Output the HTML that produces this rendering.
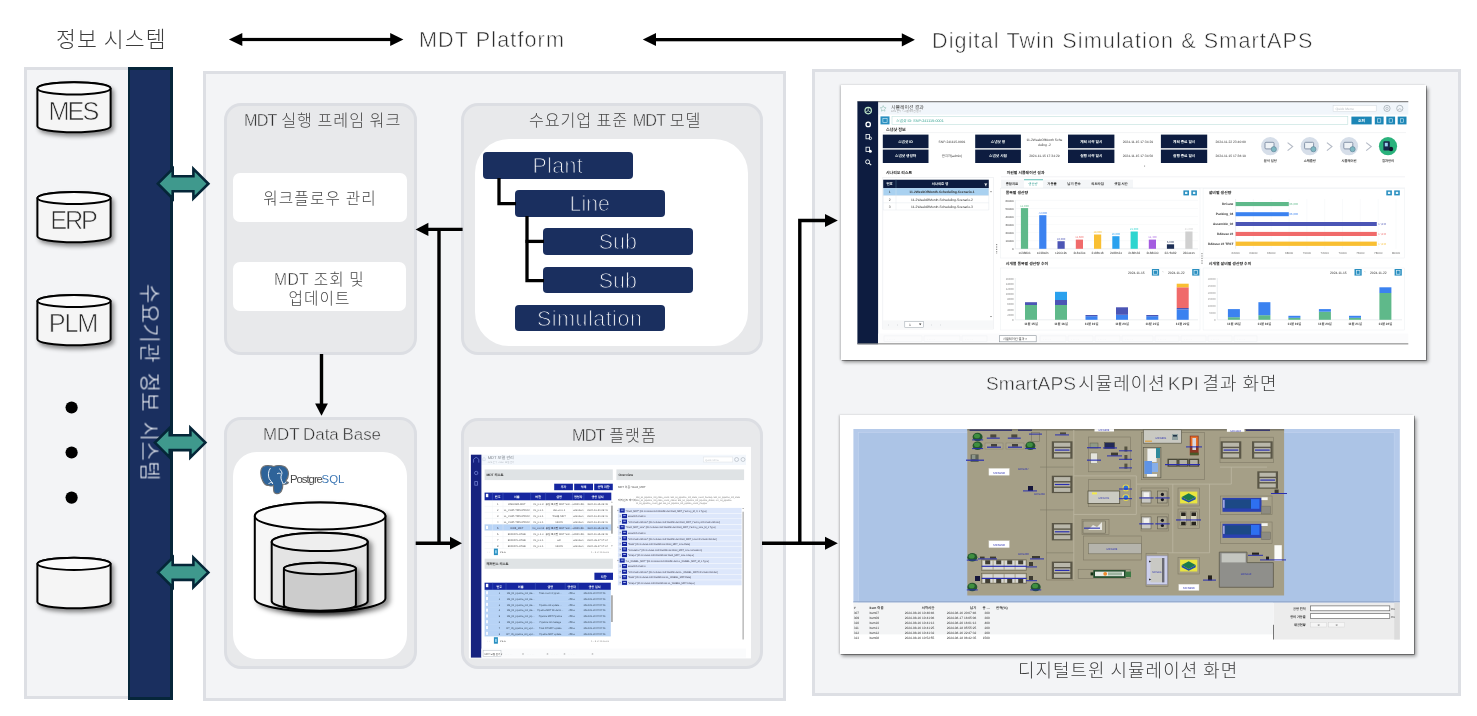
<!DOCTYPE html>
<html lang="ko">
<head>
<meta charset="utf-8">
<title>MDT Platform Architecture</title>
<style>
html,body{margin:0;padding:0}
body{width:1477px;height:716px;position:relative;overflow:hidden;background:#fff;
  font-family:"Liberation Sans","Noto Sans CJK KR",sans-serif;font-weight:300;color:#3d3d3d}
.a{position:absolute;box-sizing:border-box}
.t{position:absolute;white-space:nowrap;line-height:1;margin:0;will-change:transform}
.panel{background:#f3f4f6;border:3px solid #dddfe4}
.ip{background:#e8e9eb;border:3px solid #dcdee3;border-radius:17px}
.wb{background:#fff}
.nb{will-change:transform;--bg:#1a2f5f;background:#1a2f5f;border-radius:4px;color:#fff;font-size:21.4px;text-align:center;line-height:28.5px;letter-spacing:0}
.h{font-size:21.6px;letter-spacing:1.1px}
.L{-webkit-text-stroke:.026em var(--bg,#fff);color:#2b2b2b}
.nb .L{color:#fff;-webkit-text-stroke-width:.045em}
.lbl{font-size:16.2px;color:#484848;letter-spacing:.95px;word-spacing:-.054em;--bg:#e8e9eb}
.cap{font-size:17.9px;color:#3d3d3d;letter-spacing:1.05px;word-spacing:-.054em;--bg:#f3f4f6}
.cyl{font-size:25.3px;width:80px;text-align:center;color:#333;letter-spacing:0;z-index:5;--bg:#f5f5f5}
.cap .L{font-size:1.07em}
.wt{--bg:#fff;font-size:15.7px;color:#484848;text-align:center;letter-spacing:1.12px;word-spacing:-.054em}
svg{position:absolute;left:0;top:0;overflow:visible}
</style>
</head>
<body>

<!-- ===== header ===== -->
<div class="t h" id="h1" style="left:56.3px;top:29px;word-spacing:-1.2px">정보 시스템</div>
<div class="t h L" id="h2" style="left:419px;top:29.3px">MDT Platform</div>
<div class="t h L" id="h3" style="left:932px;top:29.5px">Digital Twin Simulation &amp; SmartAPS</div>

<!-- ===== left panel ===== -->
<div class="a panel" id="pL" style="left:24px;top:67px;width:149px;height:632px"></div>
<div class="a" id="navy" style="left:127.5px;top:67px;width:45.5px;height:632.5px;background:#1a2f5f;border:3px solid #06263a;border-left-width:2px"></div>
<div class="t" id="vt" style="left:150px;top:382.8px;width:0;height:0">
  <div class="t" style="left:-110px;top:-11px;width:220px;text-align:center;font-size:21px;letter-spacing:.4px;word-spacing:3.5px;color:#f2f4f8;transform:rotate(90deg);transform-origin:50% 50%">수요기관 정보 시스템</div>
</div>

<div class="t cyl" id="cy1" style="left:33px;top:98.5px"><span class="L" style="letter-spacing:-.076em">MES</span></div>
<div class="t cyl" id="cy2" style="left:33px;top:208px"><span class="L" style="letter-spacing:-.088em">ERP</span></div>
<div class="t cyl" id="cy3" style="left:33px;top:311px"><span class="L" style="letter-spacing:-.045em">PLM</span></div>

<!-- ===== middle panel ===== -->
<div class="a panel" id="pM" style="left:202.5px;top:70.5px;width:583.5px;height:630.5px"></div>
<div class="a ip" id="ip1" style="left:224px;top:103.3px;width:193.3px;height:251.5px"></div>
<div class="a ip" id="ip2" style="left:461.3px;top:103.3px;width:302.2px;height:251.3px"></div>
<div class="a ip" id="ip3" style="left:224px;top:417.4px;width:193.3px;height:251.4px"></div>
<div class="a ip" id="ip4" style="left:461.3px;top:417.6px;width:302.2px;height:251.2px"></div>

<div class="t lbl" id="l1" style="left:244px;top:112.1px"><span class="L" style="letter-spacing:-.049em">MDT</span> 실행 프레임 워크</div>
<div class="t lbl" id="l2" style="left:529px;top:112.2px;letter-spacing:.88px">수요기업 표준 <span class="L" style="letter-spacing:-.049em">MDT</span> 모델</div>
<div class="t lbl" id="l3" style="left:262.6px;top:426.5px;font-size:16.9px;letter-spacing:1.5px"><span class="L" style="letter-spacing:0">MDT Data Base</span></div>
<div class="t lbl" id="l4" style="left:572px;top:426.8px"><span class="L" style="letter-spacing:-.049em">MDT</span> 플랫폼</div>

<div class="a wb" id="wb1" style="left:233.2px;top:173px;width:173.8px;height:48.7px;border-radius:7px"></div>
<div class="a wb" id="wb2" style="left:232.8px;top:262.3px;width:173.4px;height:48.4px;border-radius:7px"></div>
<div class="t wt" id="w1" style="left:233px;top:191px;width:174px">워크플로우 관리</div>
<div class="t wt" id="w2" style="left:233px;top:269.5px;width:173px;line-height:19.3px"><span class="L" style="letter-spacing:.02em">MDT</span> 조회 및<br>업데이트</div>

<div class="a wb" id="wb3" style="left:474.7px;top:138.8px;width:273.2px;height:207.2px;border-radius:34px"></div>
<div class="a wb" id="wb4" style="left:233px;top:452.2px;width:174.2px;height:207.3px;border-radius:24px"></div>

<div class="a nb" id="n1" style="left:483.3px;top:151.8px;width:149.7px;height:26.6px"><span class="L" style="letter-spacing:.018em">Plant</span></div>
<div class="a nb" id="n2" style="left:515.2px;top:190.2px;width:149.5px;height:26.5px"><span class="L">Line</span></div>
<div class="a nb" id="n3" style="left:543.2px;top:228.3px;width:149.7px;height:26.5px"><span class="L">Sub</span></div>
<div class="a nb" id="n4" style="left:543.2px;top:266.7px;width:149.7px;height:26.4px"><span class="L">Sub</span></div>
<div class="a nb" id="n5" style="left:515.2px;top:305px;width:149.5px;height:25.8px"><span class="L" style="letter-spacing:.026em">Simulation</span></div>

<!-- ===== right panel ===== -->
<div class="a panel" id="pR" style="left:812px;top:69px;width:649.4px;height:627.2px"></div>
<div class="t cap" id="c1" style="left:985.6px;top:374.4px"><span class="L" style="letter-spacing:.1px;margin-right:-3px">SmartAPS</span> 시뮬레이션 <span class="L" style="letter-spacing:.1px;margin:0 -1.5px 0 -3px">KPI</span> 결과 화면</div>
<div class="t cap" id="c2" style="left:1017.8px;top:663px">디지털트윈 시뮬레이션 화면</div>

<div class="a" id="f1" style="left:840.5px;top:85.3px;width:585px;height:274.7px;background:#fff;box-shadow:.8px .8px 0 rgba(0,0,0,.38), 2px 2.5px 3.5px rgba(0,0,0,.42), -1px 0 2px rgba(0,0,0,.2)"></div>
<div class="a" id="f2" style="left:840px;top:414.5px;width:574.3px;height:239px;background:#fff;box-shadow:.8px .8px 0 rgba(0,0,0,.38), 2px 2.5px 3.5px rgba(0,0,0,.42), -1px 0 2px rgba(0,0,0,.2)"></div>

<!-- ===== vector overlay: arrows, cylinders ===== -->
<svg id="ov" width="1477" height="716" viewBox="0 0 1477 716">
  <defs>
    <filter id="sh" x="-20%" y="-20%" width="150%" height="160%">
      <feDropShadow dx="2.4" dy="3" stdDeviation="2.3" flood-color="#000" flood-opacity=".45"/>
    </filter>
    <filter id="sh2" x="-20%" y="-20%" width="150%" height="150%">
      <feDropShadow dx="3.5" dy="3" stdDeviation="2.8" flood-color="#000" flood-opacity=".45"/>
    </filter>
    <filter id="bl3" x="-5%" y="-5%" width="110%" height="110%"><feGaussianBlur stdDeviation=".35"/></filter>
    <filter id="bl2" x="-2%" y="-2%" width="104%" height="104%"><feGaussianBlur stdDeviation=".55"/></filter>
    <filter id="bl" x="-2%" y="-2%" width="104%" height="104%"><feGaussianBlur stdDeviation=".45"/></filter>
  </defs>
<!--S1-->
<g id="s1" filter="url(#bl)" text-rendering="geometricPrecision" font-family="'Liberation Sans','Noto Sans CJK KR',sans-serif">
<rect x="857.4" y="101.5" width="550.9" height="242.7" fill="#fff"/>
<rect x="878.1" y="102.0" width="530.2" height="12.6" fill="#f1f6fb"/>
<rect x="857.4" y="101.2" width="550.9" height="1.0" fill="#6a6a6a"/>
<rect x="857.4" y="101.5" width="20.7" height="242.7" fill="#0c1f40"/>
<g fill="none" stroke="#fff" stroke-width="1">
<circle cx="868.2" cy="110.6" r="3.2" stroke="#bfe6c8" stroke-width="1.2"/><path d="M868.2 107.4V110.6L865.5 112.4M868.2 110.6L870.9 112.4" stroke="#bfe6c8" stroke-width=".8"/>
<circle cx="868.2" cy="124.4" r="2.2" stroke-width="1.3"/>
<rect x="866" y="134.4" width="3.4" height="4.4" stroke-width=".8"/><circle cx="870.3" cy="138.3" r="1.3" stroke-width=".8"/>
<rect x="866" y="147.2" width="3.4" height="4.4" stroke-width=".8"/><circle cx="870.3" cy="151.3" r="1.5" fill="#fff" stroke="none"/>
<circle cx="867.6" cy="161.8" r="2" stroke-width=".9"/><path d="M869.2 163.4L871.2 165.2" stroke-width="1.1"/>
</g>
<path d="M883.2 105.6l.9 1.9 2 .3-1.5 1.4.4 2-1.8-1-1.8 1 .4-2-1.5-1.4 2-.3z" fill="none" stroke="#7fb5a8" stroke-width=".5"/>
<text x="891.0" y="108.6" font-size="4.90" fill="#4a4a4a" text-anchor="start" font-weight="400">시뮬레이션 결과</text>
<text x="891.0" y="112.2" font-size="2.51" fill="#9a9a9a" text-anchor="start" font-weight="400">APS 분석 &gt; 시뮬레이션 결과</text>
<rect x="1333.1" y="105.5" width="43.1" height="6.1" fill="#fff" stroke="#cfd6dc" stroke-width=".5"/>
<text x="1335.5" y="110.0" font-size="3.42" fill="#b5bcc2" text-anchor="start" font-weight="400">Quick Menu</text>
<circle cx="1387" cy="108.4" r="3.1" fill="none" stroke="#9aa3ab" stroke-width=".7"/><circle cx="1387" cy="108.4" r="1.2" fill="none" stroke="#9aa3ab" stroke-width=".6"/>
<circle cx="1399.8" cy="108.4" r="3.1" fill="none" stroke="#9aa3ab" stroke-width=".7"/><path d="M1398.3 109.8a1.6 1.6 0 0 1 3 0" fill="none" stroke="#9aa3ab" stroke-width=".6"/>
<rect x="880.5" y="116.4" width="9.0" height="8.0" fill="#2a8fc0"/>
<rect x="882.9" y="118.5" width="4.2" height="3.8" fill="none" stroke="#d8f0fa" stroke-width=".6"/>
<rect x="892.0" y="116.6" width="455.8" height="7.8" fill="#fff" stroke="#bfe0dc" stroke-width=".6"/>
<text x="896.0" y="122.0" font-size="3.76" fill="#3aa595" text-anchor="start" font-weight="400">스냅샷 ID: SNP-241115-0001</text>
<rect x="1351.4" y="116.6" width="20.3" height="7.8" fill="#1b86b6"/>
<text x="1361.5" y="121.8" font-size="3.76" fill="#fff" text-anchor="middle" font-weight="700">조회</text>
<rect x="1374.8" y="116.6" width="8.8" height="7.8" fill="#1b86b6"/>
<rect x="1377.6" y="118.8" width="3.2" height="3.4" fill="none" stroke="#cfeaf6" stroke-width=".6"/>
<rect x="1386.3" y="116.6" width="8.8" height="7.8" fill="#1b86b6"/>
<rect x="1389.1" y="118.8" width="3.2" height="3.4" fill="none" stroke="#cfeaf6" stroke-width=".6"/>
<rect x="1397.7" y="116.6" width="8.8" height="7.8" fill="#1b86b6"/>
<rect x="1400.5" y="118.8" width="3.2" height="3.4" fill="none" stroke="#cfeaf6" stroke-width=".6"/>
<text x="885.9" y="130.6" font-size="4.10" fill="#222" text-anchor="start" font-weight="700">스냅샷 정보</text>
<path d="M883 132.6H1406" stroke="#e6e9ec" stroke-width=".5"/>
<rect x="882.8" y="134.6" width="45.7" height="13.6" fill="#0c1f40"/>
<rect x="882.8" y="149.6" width="45.7" height="13.4" fill="#0c1f40"/>
<text x="905.6" y="142.6" font-size="3.65" fill="#fff" text-anchor="middle" font-weight="700">스냅샷 ID</text>
<text x="905.6" y="157.4" font-size="3.65" fill="#fff" text-anchor="middle" font-weight="700">스냅샷 생성자</text>
<text x="952.0" y="142.6" font-size="3.31" fill="#3a3a3a" text-anchor="middle" font-weight="400">SNP-241115-0001</text>
<text x="952.0" y="157.4" font-size="3.31" fill="#3a3a3a" text-anchor="middle" font-weight="400">관리자(admin)</text>
<rect x="975.2" y="134.6" width="45.7" height="13.6" fill="#0c1f40"/>
<rect x="975.2" y="149.6" width="45.7" height="13.4" fill="#0c1f40"/>
<text x="998.0" y="142.6" font-size="3.65" fill="#fff" text-anchor="middle" font-weight="700">스냅샷 명</text>
<text x="998.0" y="157.4" font-size="3.65" fill="#fff" text-anchor="middle" font-weight="700">스냅샷 시점</text>
<text x="1044.4" y="141.0" font-size="3.31" fill="#3a3a3a" text-anchor="middle" font-weight="400">11-2WeekOfMonth Sche</text>
<text x="1044.4" y="146.0" font-size="3.31" fill="#3a3a3a" text-anchor="middle" font-weight="400">duling -2</text>
<text x="1044.4" y="157.4" font-size="3.31" fill="#3a3a3a" text-anchor="middle" font-weight="400">2024-11-15 17:34:29</text>
<rect x="1068.0" y="134.6" width="46.4" height="13.6" fill="#0c1f40"/>
<rect x="1068.0" y="149.6" width="46.4" height="13.4" fill="#0c1f40"/>
<text x="1091.2" y="142.6" font-size="3.65" fill="#fff" text-anchor="middle" font-weight="700">계획 시작 일시</text>
<text x="1091.2" y="157.4" font-size="3.65" fill="#fff" text-anchor="middle" font-weight="700">실행 시작 일시</text>
<text x="1137.9" y="142.6" font-size="3.31" fill="#3a3a3a" text-anchor="middle" font-weight="400">2024-11-15 17:34:29</text>
<text x="1137.9" y="157.4" font-size="3.31" fill="#3a3a3a" text-anchor="middle" font-weight="400">2024-11-15 17:34:50</text>
<rect x="1160.9" y="134.6" width="46.3" height="13.6" fill="#0c1f40"/>
<rect x="1160.9" y="149.6" width="46.3" height="13.4" fill="#0c1f40"/>
<text x="1184.1" y="142.6" font-size="3.65" fill="#fff" text-anchor="middle" font-weight="700">계획 종료 일시</text>
<text x="1184.1" y="157.4" font-size="3.65" fill="#fff" text-anchor="middle" font-weight="700">실행 종료 일시</text>
<text x="1230.7" y="142.6" font-size="3.31" fill="#3a3a3a" text-anchor="middle" font-weight="400">2024-11-22 23:40:00</text>
<text x="1230.7" y="157.4" font-size="3.31" fill="#3a3a3a" text-anchor="middle" font-weight="400">2024-11-15 17:36:19</text>
<circle cx="1270.2" cy="146.2" r="9.1" fill="#d6dee9"/>
<rect x="1265.0" y="142.3" width="9" height="6.6" rx="1" fill="#eef2f6" stroke="#7b8aa0" stroke-width=".9"/>
<circle cx="1273.8" cy="149.2" r="2.6" fill="#7fb8c2" stroke="#5d7f95" stroke-width=".6"/>
<circle cx="1309.8" cy="146.2" r="9.1" fill="#d6dee9"/>
<rect x="1304.6" y="142.3" width="9" height="6.6" rx="1" fill="#eef2f6" stroke="#7b8aa0" stroke-width=".9"/>
<circle cx="1313.3999999999999" cy="149.2" r="2.6" fill="#7fb8c2" stroke="#5d7f95" stroke-width=".6"/>
<circle cx="1349" cy="146.2" r="9.1" fill="#d6dee9"/>
<rect x="1343.8" y="142.3" width="9" height="6.6" rx="1" fill="#eef2f6" stroke="#7b8aa0" stroke-width=".9"/>
<circle cx="1352.6" cy="149.2" r="2.6" fill="#7fb8c2" stroke="#5d7f95" stroke-width=".6"/>
<circle cx="1388" cy="146.2" r="9.1" fill="#2cb27b"/>
<rect x="1383.4" y="141.2" width="6.4" height="9.4" rx=".8" fill="#16254a"/>
<rect x="1384.8" y="142.8" width="3" height="3.6" fill="#9bd0f0"/>
<circle cx="1391" cy="149" r="2.2" fill="#10182c"/>
<path d="M1287.6 142.6L1292.6 146.6L1287.6 150.6" fill="none" stroke="#b5bbc6" stroke-width="1.2"/>
<path d="M1326.8999999999999 142.6L1331.8999999999999 146.6L1326.8999999999999 150.6" fill="none" stroke="#b5bbc6" stroke-width="1.2"/>
<path d="M1366.1999999999998 142.6L1371.1999999999998 146.6L1366.1999999999998 150.6" fill="none" stroke="#b5bbc6" stroke-width="1.2"/>
<text x="1270.2" y="161.6" font-size="3.31" fill="#3a3a3a" text-anchor="middle" font-weight="700">분석 설정</text>
<text x="1309.8" y="161.6" font-size="3.31" fill="#3a3a3a" text-anchor="middle" font-weight="700">스케줄링</text>
<text x="1349.0" y="161.6" font-size="3.31" fill="#3a3a3a" text-anchor="middle" font-weight="700">시뮬레이션</text>
<text x="1388.0" y="161.6" font-size="3.31" fill="#3a3a3a" text-anchor="middle" font-weight="700">결과정리</text>
<circle cx="1144.6" cy="166" r=".5" fill="#666"/>
<text x="886.0" y="174.3" font-size="3.88" fill="#222" text-anchor="start" font-weight="700">시나리오 리스트</text>
<text x="1006.7" y="174.3" font-size="3.88" fill="#222" text-anchor="start" font-weight="700">자원별 시뮬레이션 결과</text>
<path d="M1001 176.8H1405" stroke="#e4e7ea" stroke-width=".5"/>
<rect x="882.8" y="177.6" width="110.7" height="151.4" fill="#fff" stroke="#e9ecef" stroke-width=".6"/>
<rect x="883.2" y="179.7" width="105.6" height="8.5" fill="#0c1f40"/>
<path d="M896 179.7V188.2" stroke="#5a6a8a" stroke-width=".5"/>
<text x="889.6" y="185.3" font-size="3.42" fill="#fff" text-anchor="middle" font-weight="700">번호</text>
<text x="940.0" y="185.0" font-size="3.42" fill="#fff" text-anchor="middle" font-weight="700">시나리오 명</text>
<path d="M984.2 183.4h3.2l-1.2 1.6v1.6l-.8-.5v-1.1z" fill="#fff"/>
<rect x="883.2" y="188.2" width="105.6" height="7.3" fill="#a9d1f0"/>
<text x="889.6" y="193.2" font-size="3.31" fill="#333" text-anchor="middle" font-weight="400">1</text>
<text x="942.0" y="193.2" font-size="3.31" fill="#333" text-anchor="middle" font-weight="700">11-2WeekOfMonth-Scheduling-Scenario-1</text>
<text x="889.6" y="200.5" font-size="3.31" fill="#333" text-anchor="middle" font-weight="400">2</text>
<text x="942.0" y="200.5" font-size="3.31" fill="#333" text-anchor="middle" font-weight="400">11-2WeekOfMonth-Scheduling-Scenario-2</text>
<text x="889.6" y="207.8" font-size="3.31" fill="#333" text-anchor="middle" font-weight="400">3</text>
<text x="942.0" y="207.8" font-size="3.31" fill="#333" text-anchor="middle" font-weight="400">11-2WeekOfMonth-Scheduling-Scenario-3</text>
<path d="M883.2 195.5H988.8M883.2 202.8H988.8M883.2 210H988.8M896 188.2V210M883.2 188.2V210M988.8 188.2V210" stroke="#dfe4ea" stroke-width=".4" fill="none"/>
<path d="M990.2 191.2h1.6l-.8 1.2z" fill="#555"/><path d="M990.2 316h1.6l-.8 1.2z" fill="#555"/>
<rect x="883.0" y="320.4" width="110.0" height="8.2" fill="#f7f8f9"/>
<rect x="904.8" y="321.6" width="18.6" height="5.8" fill="#fff" stroke="#9aa3ab" stroke-width=".5"/>
<text x="909.0" y="326.0" font-size="3.42" fill="#333" text-anchor="start" font-weight="400">1</text>
<path d="M919 323.6h2.4l-1.2 1.6z" fill="#333"/>
<text x="888.0" y="326.0" font-size="3.88" fill="#b9bec4" text-anchor="start" font-weight="400">‹</text>
<text x="897.0" y="326.0" font-size="3.88" fill="#b9bec4" text-anchor="start" font-weight="400">‹</text>
<text x="931.0" y="326.0" font-size="3.88" fill="#b9bec4" text-anchor="start" font-weight="400">›</text>
<text x="940.0" y="326.0" font-size="3.88" fill="#b9bec4" text-anchor="start" font-weight="400">›</text>
<path d="M996.7 244v10" stroke="#555" stroke-width=".8" stroke-dasharray="1.2 1.2"/><path d="M1202 253v12" stroke="#555" stroke-width=".8" stroke-dasharray="1.2 1.2"/>
<rect x="1001.0" y="179.7" width="404.0" height="8.3" fill="#fff"/>
<rect x="1001.0" y="179.7" width="23.0" height="8.3" fill="#f4f6f8"/>
<rect x="1043.0" y="179.7" width="90.0" height="8.3" fill="#f4f6f8"/>
<path d="M1001 188H1405" stroke="#e2e6ea" stroke-width=".5"/>
<rect x="1024.0" y="179.4" width="19.0" height="0.8" fill="#36b0a4"/>
<text x="1012.0" y="185.4" font-size="3.42" fill="#333" text-anchor="middle" font-weight="700">종합지표</text>
<text x="1033.0" y="185.4" font-size="3.42" fill="#2c9a90" text-anchor="middle" font-weight="400">생산량</text>
<text x="1052.0" y="185.4" font-size="3.42" fill="#333" text-anchor="middle" font-weight="700">가동률</text>
<text x="1074.0" y="185.4" font-size="3.42" fill="#333" text-anchor="middle" font-weight="700">납기 준수</text>
<text x="1097.6" y="185.4" font-size="3.42" fill="#333" text-anchor="middle" font-weight="700">리드타임</text>
<text x="1121.0" y="185.4" font-size="3.42" fill="#333" text-anchor="middle" font-weight="700">셋업 시간</text>
<rect x="1000.6" y="188.6" width="199.4" height="69.4" fill="#fff" stroke="#eceff2" stroke-width=".5"/>
<rect x="1203.1" y="188.6" width="201.5" height="69.4" fill="#fff" stroke="#eceff2" stroke-width=".5"/>
<rect x="1000.6" y="268.0" width="199.4" height="62.0" fill="#fff" stroke="#eceff2" stroke-width=".5"/>
<rect x="1203.1" y="268.0" width="201.5" height="62.0" fill="#fff" stroke="#eceff2" stroke-width=".5"/>
<text x="1005.7" y="194.2" font-size="3.88" fill="#222" text-anchor="start" font-weight="700">품목별 생산량</text>
<text x="1208.8" y="194.2" font-size="3.88" fill="#222" text-anchor="start" font-weight="700">설비별 생산량</text>
<rect x="1183.4" y="190.4" width="5.6" height="5.0" fill="#2a8fc0"/>
<rect x="1185.0" y="191.8" width="2.4" height="2.2" fill="#e6f5fb"/>
<rect x="1191.3" y="190.4" width="5.6" height="5.0" fill="#2a8fc0"/>
<rect x="1192.9" y="191.8" width="2.4" height="2.2" fill="#e6f5fb"/>
<rect x="1386.3" y="190.4" width="5.6" height="5.0" fill="#2a8fc0"/>
<rect x="1387.9" y="191.8" width="2.4" height="2.2" fill="#e6f5fb"/>
<rect x="1394.2" y="190.4" width="5.6" height="5.0" fill="#2a8fc0"/>
<rect x="1395.8" y="191.8" width="2.4" height="2.2" fill="#e6f5fb"/>
<path d="M1015.3 200V248.8H1198" stroke="#d9dde2" stroke-width=".5" fill="none"/>
<text x="1013.6" y="201.6" font-size="2.96" fill="#4a4a4a" text-anchor="end" font-weight="400">60000</text>
<path d="M1015.3 200.4H1198" stroke="#f1f3f5" stroke-width=".4"/>
<text x="1013.6" y="209.7" font-size="2.96" fill="#4a4a4a" text-anchor="end" font-weight="400">50000</text>
<path d="M1015.3 208.5H1198" stroke="#f1f3f5" stroke-width=".4"/>
<text x="1013.6" y="217.7" font-size="2.96" fill="#4a4a4a" text-anchor="end" font-weight="400">40000</text>
<path d="M1015.3 216.5H1198" stroke="#f1f3f5" stroke-width=".4"/>
<text x="1013.6" y="225.8" font-size="2.96" fill="#4a4a4a" text-anchor="end" font-weight="400">30000</text>
<path d="M1015.3 224.6H1198" stroke="#f1f3f5" stroke-width=".4"/>
<text x="1013.6" y="233.8" font-size="2.96" fill="#4a4a4a" text-anchor="end" font-weight="400">20000</text>
<path d="M1015.3 232.6H1198" stroke="#f1f3f5" stroke-width=".4"/>
<text x="1013.6" y="241.9" font-size="2.96" fill="#4a4a4a" text-anchor="end" font-weight="400">10000</text>
<path d="M1015.3 240.7H1198" stroke="#f1f3f5" stroke-width=".4"/>
<text x="1013.6" y="250.0" font-size="2.96" fill="#4a4a4a" text-anchor="end" font-weight="400">0</text>
<rect x="1020.9" y="208.1" width="7.2" height="40.7" fill="#5fb98a"/>
<text x="1024.5" y="206.7" font-size="2.74" fill="#5fb98a" text-anchor="middle" font-weight="400">51,000</text>
<text x="1024.5" y="253.8" font-size="3.08" fill="#3a3a3a" text-anchor="middle" font-weight="400">1638806</text>
<rect x="1039.2" y="215.2" width="7.2" height="33.6" fill="#3b82f0"/>
<text x="1042.8" y="213.8" font-size="2.74" fill="#3b82f0" text-anchor="middle" font-weight="400">42,000</text>
<text x="1042.8" y="253.8" font-size="3.08" fill="#3a3a3a" text-anchor="middle" font-weight="400">1638425</text>
<rect x="1057.5" y="241.2" width="7.2" height="7.6" fill="#4c55b5"/>
<text x="1061.1" y="239.8" font-size="2.74" fill="#4c55b5" text-anchor="middle" font-weight="400">10,000</text>
<text x="1061.1" y="253.8" font-size="3.08" fill="#3a3a3a" text-anchor="middle" font-weight="400">1206195</text>
<rect x="1075.8" y="239.6" width="7.2" height="9.2" fill="#f06a6a"/>
<text x="1079.4" y="238.2" font-size="2.74" fill="#f06a6a" text-anchor="middle" font-weight="400">11,600</text>
<text x="1079.4" y="253.8" font-size="3.08" fill="#3a3a3a" text-anchor="middle" font-weight="400">2181204</text>
<rect x="1094.0" y="234.5" width="7.2" height="14.3" fill="#f9bf33"/>
<text x="1097.6" y="233.1" font-size="2.74" fill="#f9bf33" text-anchor="middle" font-weight="400">18,000</text>
<text x="1097.6" y="253.8" font-size="3.08" fill="#3a3a3a" text-anchor="middle" font-weight="400">2188518</text>
<rect x="1112.3" y="236.2" width="7.2" height="12.6" fill="#2aa1ee"/>
<text x="1115.9" y="234.8" font-size="2.74" fill="#2aa1ee" text-anchor="middle" font-weight="400">16,000</text>
<text x="1115.9" y="253.8" font-size="3.08" fill="#3a3a3a" text-anchor="middle" font-weight="400">2188524</text>
<rect x="1130.6" y="231.5" width="7.2" height="17.3" fill="#2fd5cf"/>
<text x="1134.2" y="230.1" font-size="2.74" fill="#2fd5cf" text-anchor="middle" font-weight="400">21,000</text>
<text x="1134.2" y="253.8" font-size="3.08" fill="#3a3a3a" text-anchor="middle" font-weight="400">2188532</text>
<rect x="1148.8" y="239.6" width="7.2" height="9.2" fill="#a45be0"/>
<text x="1152.4" y="238.2" font-size="2.74" fill="#a45be0" text-anchor="middle" font-weight="400">11,400</text>
<text x="1152.4" y="253.8" font-size="3.08" fill="#3a3a3a" text-anchor="middle" font-weight="400">2188000</text>
<rect x="1166.9" y="244.3" width="7.2" height="4.5" fill="#1c2f55"/>
<text x="1170.5" y="242.9" font-size="2.74" fill="#1c2f55" text-anchor="middle" font-weight="400">6,000</text>
<text x="1170.5" y="253.8" font-size="3.08" fill="#3a3a3a" text-anchor="middle" font-weight="400">2278182</text>
<rect x="1185.3" y="231.5" width="7.2" height="17.3" fill="#d0d0d0"/>
<text x="1188.9" y="230.1" font-size="2.74" fill="#d0d0d0" text-anchor="middle" font-weight="400">21,000</text>
<text x="1188.9" y="253.8" font-size="3.08" fill="#3a3a3a" text-anchor="middle" font-weight="400">2204415</text>
<path d="M1235.6 199V248.8" stroke="#d9dde2" stroke-width=".5"/>
<text x="1235.6" y="253.8" font-size="2.96" fill="#777" text-anchor="middle" font-weight="400">62000</text>
<text x="1253.4" y="253.8" font-size="2.96" fill="#777" text-anchor="middle" font-weight="400">64000</text>
<path d="M1253.4 199V248.8" stroke="#f1f3f5" stroke-width=".4"/>
<text x="1271.2" y="253.8" font-size="2.96" fill="#777" text-anchor="middle" font-weight="400">66000</text>
<path d="M1271.2 199V248.8" stroke="#f1f3f5" stroke-width=".4"/>
<text x="1289.1" y="253.8" font-size="2.96" fill="#777" text-anchor="middle" font-weight="400">68000</text>
<path d="M1289.1 199V248.8" stroke="#f1f3f5" stroke-width=".4"/>
<text x="1306.9" y="253.8" font-size="2.96" fill="#777" text-anchor="middle" font-weight="400">70000</text>
<path d="M1306.9 199V248.8" stroke="#f1f3f5" stroke-width=".4"/>
<text x="1324.7" y="253.8" font-size="2.96" fill="#777" text-anchor="middle" font-weight="400">72000</text>
<path d="M1324.7 199V248.8" stroke="#f1f3f5" stroke-width=".4"/>
<text x="1342.5" y="253.8" font-size="2.96" fill="#777" text-anchor="middle" font-weight="400">74000</text>
<path d="M1342.5 199V248.8" stroke="#f1f3f5" stroke-width=".4"/>
<text x="1360.3" y="253.8" font-size="2.96" fill="#777" text-anchor="middle" font-weight="400">76000</text>
<path d="M1360.3 199V248.8" stroke="#f1f3f5" stroke-width=".4"/>
<text x="1378.2" y="253.8" font-size="2.96" fill="#777" text-anchor="middle" font-weight="400">78000</text>
<path d="M1378.2 199V248.8" stroke="#f1f3f5" stroke-width=".4"/>
<text x="1396.0" y="253.8" font-size="2.96" fill="#777" text-anchor="middle" font-weight="400">80000</text>
<path d="M1396.0 199V248.8" stroke="#f1f3f5" stroke-width=".4"/>
<rect x="1235.6" y="202.0" width="53.2" height="4.1" fill="#5fb98a"/>
<text x="1233.4" y="205.1" font-size="3.19" fill="#333" text-anchor="end" font-weight="700">DrCane</text>
<text x="1289.6" y="205.1" font-size="2.74" fill="#5fb98a" text-anchor="start" font-weight="400">66,000</text>
<rect x="1235.6" y="212.2" width="53.2" height="4.0" fill="#3b82f0"/>
<text x="1233.4" y="215.2" font-size="3.19" fill="#333" text-anchor="end" font-weight="700">Packing_04</text>
<text x="1289.6" y="215.2" font-size="2.74" fill="#3b82f0" text-anchor="start" font-weight="400">66,000</text>
<rect x="1235.6" y="222.0" width="141.2" height="4.0" fill="#4c55b5"/>
<text x="1233.4" y="225.0" font-size="3.19" fill="#333" text-anchor="end" font-weight="700">Assemble_02</text>
<text x="1377.6" y="225.0" font-size="2.74" fill="#4c55b5" text-anchor="start" font-weight="400">77,840</text>
<rect x="1235.6" y="231.9" width="141.2" height="4.1" fill="#f06a6a"/>
<text x="1233.4" y="234.9" font-size="3.19" fill="#333" text-anchor="end" font-weight="700">DAbuse #2</text>
<text x="1377.6" y="234.9" font-size="2.74" fill="#f06a6a" text-anchor="start" font-weight="400">77,840</text>
<rect x="1235.6" y="241.6" width="141.2" height="4.3" fill="#f9bf33"/>
<text x="1233.4" y="244.8" font-size="3.19" fill="#333" text-anchor="end" font-weight="700">DAbuse #2 TEST</text>
<text x="1377.6" y="244.8" font-size="2.74" fill="#f9bf33" text-anchor="start" font-weight="400">77,840</text>
<text x="1005.7" y="265.2" font-size="3.88" fill="#222" text-anchor="start" font-weight="700">시계열 품목별 생산량 추이</text>
<text x="1208.8" y="265.2" font-size="3.88" fill="#222" text-anchor="start" font-weight="700">시계열 설비별 생산량 추이</text>
<text x="1128.0" y="273.6" font-size="3.31" fill="#333" text-anchor="start" font-weight="400">2024-11-15</text>
<text x="1168.0" y="273.6" font-size="3.31" fill="#333" text-anchor="start" font-weight="400">2024-11-22</text>
<text x="1162.0" y="273.4" font-size="3.19" fill="#777" text-anchor="start" font-weight="400">~</text>
<rect x="1151.9" y="269.0" width="7.2" height="6.6" fill="#2a8fc0"/>
<rect x="1153.7" y="270.6" width="3.6" height="3.6" fill="none" stroke="#e6f5fb" stroke-width=".6"/>
<rect x="1192.2" y="269.0" width="7.2" height="6.6" fill="#2a8fc0"/>
<rect x="1194.0" y="270.6" width="3.6" height="3.6" fill="none" stroke="#e6f5fb" stroke-width=".6"/>
<text x="1330.0" y="273.6" font-size="3.31" fill="#333" text-anchor="start" font-weight="400">2024-11-15</text>
<text x="1370.0" y="273.6" font-size="3.31" fill="#333" text-anchor="start" font-weight="400">2024-11-22</text>
<text x="1364.0" y="273.4" font-size="3.19" fill="#777" text-anchor="start" font-weight="400">~</text>
<rect x="1354.5" y="269.0" width="7.2" height="6.6" fill="#2a8fc0"/>
<rect x="1356.3" y="270.6" width="3.6" height="3.6" fill="none" stroke="#e6f5fb" stroke-width=".6"/>
<rect x="1394.6" y="269.0" width="7.2" height="6.6" fill="#2a8fc0"/>
<rect x="1396.4" y="270.6" width="3.6" height="3.6" fill="none" stroke="#e6f5fb" stroke-width=".6"/>
<path d="M1015.3 278V319.8H1198" stroke="#d9dde2" stroke-width=".5" fill="none"/>
<text x="1013.6" y="279.8" font-size="2.85" fill="#888" text-anchor="end" font-weight="400">16000</text>
<text x="1013.6" y="284.9" font-size="2.85" fill="#888" text-anchor="end" font-weight="400">14000</text>
<text x="1013.6" y="290.1" font-size="2.85" fill="#888" text-anchor="end" font-weight="400">12000</text>
<text x="1013.6" y="295.2" font-size="2.85" fill="#888" text-anchor="end" font-weight="400">10000</text>
<text x="1013.6" y="300.3" font-size="2.85" fill="#888" text-anchor="end" font-weight="400">8000</text>
<text x="1013.6" y="305.4" font-size="2.85" fill="#888" text-anchor="end" font-weight="400">6000</text>
<text x="1013.6" y="310.6" font-size="2.85" fill="#888" text-anchor="end" font-weight="400">4000</text>
<text x="1013.6" y="315.7" font-size="2.85" fill="#888" text-anchor="end" font-weight="400">2000</text>
<text x="1013.6" y="320.8" font-size="2.85" fill="#888" text-anchor="end" font-weight="400">0</text>
<rect x="1025.0" y="305.0" width="12.0" height="14.8" fill="#5fb98a"/>
<rect x="1025.0" y="302.2" width="12.0" height="2.8" fill="#4c55b5"/>
<text x="1031.0" y="325.4" font-size="3.19" fill="#3a3a3a" text-anchor="middle" font-weight="700">11월 15일</text>
<rect x="1055.0" y="305.0" width="12.0" height="14.8" fill="#5fb98a"/>
<rect x="1055.0" y="300.0" width="12.0" height="5.0" fill="#4c55b5"/>
<rect x="1055.0" y="291.8" width="12.0" height="8.2" fill="#2aa1ee"/>
<text x="1061.0" y="325.4" font-size="3.19" fill="#3a3a3a" text-anchor="middle" font-weight="700">11월 16일</text>
<rect x="1085.5" y="316.2" width="12.0" height="3.6" fill="#3b82f0"/>
<rect x="1085.5" y="315.0" width="12.0" height="1.2" fill="#4c55b5"/>
<text x="1091.5" y="325.4" font-size="3.19" fill="#3a3a3a" text-anchor="middle" font-weight="700">11월 19일</text>
<rect x="1116.0" y="314.8" width="12.0" height="5.0" fill="#3b82f0"/>
<rect x="1116.0" y="307.3" width="12.0" height="7.5" fill="#4c55b5"/>
<text x="1122.0" y="325.4" font-size="3.19" fill="#3a3a3a" text-anchor="middle" font-weight="700">11월 20일</text>
<rect x="1146.3" y="316.2" width="12.0" height="3.6" fill="#3b82f0"/>
<rect x="1146.3" y="315.0" width="12.0" height="1.2" fill="#4c55b5"/>
<text x="1152.3" y="325.4" font-size="3.19" fill="#3a3a3a" text-anchor="middle" font-weight="700">11월 21일</text>
<rect x="1176.7" y="309.4" width="12.0" height="10.4" fill="#3b82f0"/>
<rect x="1176.7" y="308.0" width="12.0" height="1.4" fill="#4c55b5"/>
<rect x="1176.7" y="287.3" width="12.0" height="20.7" fill="#f06a6a"/>
<rect x="1176.7" y="283.7" width="12.0" height="3.6" fill="#f9bf33"/>
<text x="1182.7" y="325.4" font-size="3.19" fill="#3a3a3a" text-anchor="middle" font-weight="700">11월 22일</text>
<path d="M1217.3 278V319.8H1402" stroke="#d9dde2" stroke-width=".5" fill="none"/>
<text x="1215.6" y="279.8" font-size="2.85" fill="#999" text-anchor="end" font-weight="400">30000</text>
<text x="1215.6" y="286.6" font-size="2.85" fill="#999" text-anchor="end" font-weight="400">25000</text>
<text x="1215.6" y="293.5" font-size="2.85" fill="#999" text-anchor="end" font-weight="400">20000</text>
<text x="1215.6" y="300.3" font-size="2.85" fill="#999" text-anchor="end" font-weight="400">15000</text>
<text x="1215.6" y="307.1" font-size="2.85" fill="#999" text-anchor="end" font-weight="400">10000</text>
<text x="1215.6" y="313.9" font-size="2.85" fill="#999" text-anchor="end" font-weight="400">5000</text>
<text x="1215.6" y="320.8" font-size="2.85" fill="#999" text-anchor="end" font-weight="400">0</text>
<rect x="1227.9" y="317.2" width="12.0" height="2.6" fill="#5fb98a"/>
<rect x="1227.9" y="309.1" width="12.0" height="8.1" fill="#3b82f0"/>
<text x="1233.9" y="325.4" font-size="3.19" fill="#3a3a3a" text-anchor="middle" font-weight="700">11월 15일</text>
<rect x="1258.4" y="315.2" width="12.0" height="4.6" fill="#5fb98a"/>
<rect x="1258.4" y="302.2" width="12.0" height="13.0" fill="#3b82f0"/>
<text x="1264.4" y="325.4" font-size="3.19" fill="#3a3a3a" text-anchor="middle" font-weight="700">11월 16일</text>
<rect x="1288.4" y="317.8" width="12.0" height="2.0" fill="#5fb98a"/>
<rect x="1288.4" y="315.8" width="12.0" height="2.0" fill="#3b82f0"/>
<text x="1294.4" y="325.4" font-size="3.19" fill="#3a3a3a" text-anchor="middle" font-weight="700">11월 19일</text>
<rect x="1318.9" y="311.7" width="12.0" height="8.1" fill="#5fb98a"/>
<rect x="1318.9" y="309.1" width="12.0" height="2.6" fill="#3b82f0"/>
<text x="1324.9" y="325.4" font-size="3.19" fill="#3a3a3a" text-anchor="middle" font-weight="700">11월 20일</text>
<rect x="1349.0" y="317.8" width="12.0" height="2.0" fill="#5fb98a"/>
<rect x="1349.0" y="315.8" width="12.0" height="2.0" fill="#3b82f0"/>
<text x="1355.0" y="325.4" font-size="3.19" fill="#3a3a3a" text-anchor="middle" font-weight="700">11월 21일</text>
<rect x="1379.4" y="293.0" width="12.0" height="26.8" fill="#5fb98a"/>
<rect x="1379.4" y="287.3" width="12.0" height="5.7" fill="#3b82f0"/>
<text x="1385.4" y="325.4" font-size="3.19" fill="#3a3a3a" text-anchor="middle" font-weight="700">11월 22일</text>
<rect x="878.1" y="333.6" width="530.2" height="10.6" fill="#fbfbfc"/>
<rect x="884.0" y="335.9" width="38.0" height="5.7" fill="none" stroke="#eef0f2" stroke-width=".5"/>
<text x="887.0" y="340.0" font-size="2.96" fill="#d4d8dc" text-anchor="start" font-weight="400">· · · · ·</text>
<rect x="924.0" y="335.9" width="36.0" height="5.7" fill="none" stroke="#eef0f2" stroke-width=".5"/>
<text x="927.0" y="340.0" font-size="2.96" fill="#d4d8dc" text-anchor="start" font-weight="400">· · · · ·</text>
<rect x="962.0" y="335.9" width="25.0" height="5.7" fill="none" stroke="#eef0f2" stroke-width=".5"/>
<text x="965.0" y="340.0" font-size="2.96" fill="#d4d8dc" text-anchor="start" font-weight="400">· · · · ·</text>
<rect x="999.6" y="335.7" width="36.6" height="6.1" fill="#fff" stroke="#8c949c" stroke-width=".6"/>
<text x="1003.0" y="340.2" font-size="3.19" fill="#333" text-anchor="start" font-weight="400">시뮬레이션 결과 ×</text>
<rect x="1040.0" y="335.9" width="26.0" height="5.7" fill="none" stroke="#eef0f2" stroke-width=".5"/>
<text x="1043.0" y="340.0" font-size="2.96" fill="#d4d8dc" text-anchor="start" font-weight="400">· · · · ·</text>
<rect x="1068.0" y="335.9" width="25.0" height="5.7" fill="none" stroke="#eef0f2" stroke-width=".5"/>
<text x="1071.0" y="340.0" font-size="2.96" fill="#d4d8dc" text-anchor="start" font-weight="400">· · · · ·</text>
<rect x="1095.0" y="335.9" width="25.0" height="5.7" fill="none" stroke="#eef0f2" stroke-width=".5"/>
<text x="1098.0" y="340.0" font-size="2.96" fill="#d4d8dc" text-anchor="start" font-weight="400">· · · · ·</text>
<rect x="1122.0" y="335.9" width="31.0" height="5.7" fill="none" stroke="#eef0f2" stroke-width=".5"/>
<text x="1125.0" y="340.0" font-size="2.96" fill="#d4d8dc" text-anchor="start" font-weight="400">· · · · ·</text>
<rect x="1155.0" y="335.9" width="24.0" height="5.7" fill="none" stroke="#eef0f2" stroke-width=".5"/>
<text x="1158.0" y="340.0" font-size="2.96" fill="#d4d8dc" text-anchor="start" font-weight="400">· · · · ·</text>
<rect x="1181.0" y="335.9" width="25.0" height="5.7" fill="none" stroke="#eef0f2" stroke-width=".5"/>
<text x="1184.0" y="340.0" font-size="2.96" fill="#d4d8dc" text-anchor="start" font-weight="400">· · · · ·</text>
<rect x="1208.0" y="335.9" width="24.0" height="5.7" fill="none" stroke="#eef0f2" stroke-width=".5"/>
<text x="1211.0" y="340.0" font-size="2.96" fill="#d4d8dc" text-anchor="start" font-weight="400">· · · · ·</text>
<rect x="1234.0" y="335.9" width="23.0" height="5.7" fill="none" stroke="#eef0f2" stroke-width=".5"/>
<text x="1237.0" y="340.0" font-size="2.96" fill="#d4d8dc" text-anchor="start" font-weight="400">· · · · ·</text>
<rect x="857.4" y="343.3" width="550.9" height="1.1" fill="#8a8a8a"/>
</g>
<!--/S1-->
<!--S2-->
<g id="s2" filter="url(#bl2)" text-rendering="geometricPrecision" font-family="'Liberation Sans','Noto Sans CJK KR',sans-serif">
<rect x="853.4" y="429.0" width="546.4" height="210.5" fill="#fff"/>
<rect x="853.4" y="429.0" width="546.4" height="173.4" fill="#b5caea"/>
<rect x="858.5" y="432.4" width="535.7" height="170.0" fill="#acc4e6" stroke="#c3d4ee" stroke-width=".6"/>
<rect x="853.4" y="601.2" width="546.4" height="1.4" fill="#93a9cc"/>
<rect x="967.3" y="429.4" width="316.8" height="166.1" fill="#a59f87"/>
<rect x="967.3" y="429.2" width="316.8" height="1.2" fill="#6f6b5a"/>
<g fill="none" stroke="#7f7a66" stroke-width=".6">
<path d="M1046.5 430V580M1040 467.1H1073.8M1040 509.9H1073.8M1046.5 552.8H1073.8M1046.5 580H1073.8"/>
<rect x="1088.3" y="437" width="42" height="34.8"/><rect x="1141.4" y="432.5" width="63.1" height="47.2"/><rect x="1220" y="437.2" width="53.4" height="25.5"/>
<rect x="1088.3" y="479.7" width="42" height="27"/><rect x="1141" y="488" width="27.5" height="18"/><rect x="1178" y="488" width="21.5" height="18"/><rect x="1178" y="509" width="21.5" height="19.5"/>
<rect x="1220.6" y="496" width="51.5" height="18.4"/><rect x="1220.6" y="522" width="51.5" height="21.3"/>
<rect x="1078.2" y="569.3" width="52" height="9.2"/><rect x="1083.5" y="536" width="58" height="24"/><rect x="1082" y="519.5" width="27" height="15"/>
<rect x="1146" y="553.5" width="22" height="33"/><rect x="1178" y="557.5" width="21.5" height="16.5"/><rect x="1141" y="514" width="27.5" height="17"/>
</g>
<g fill="none" stroke="#bcb7a2" stroke-width=".8">
<path d="M1073.8 430V580M1073.8 475.9H1136.3V514.4H1073.8M1137 484.1H1231.3V467.1M1220 467.1H1267M1172.8 484.1V552.8M1209.5 484.1V552.8H1157"/>
</g>
<rect x="1051.8" y="441.3" width="20.7" height="17.4" fill="#5a5746"/>
<rect x="1054.0" y="442.7" width="16.3" height="4.0" fill="#b9b7aa"/>
<rect x="1054.0" y="448.1" width="16.3" height="4.0" fill="#b9b7aa"/>
<rect x="1054.0" y="453.5" width="16.3" height="4.0" fill="#b9b7aa"/>
<rect x="1054.8" y="449.5" width="14.7" height="1.2" fill="#2a2fb0"/>
<rect x="1051.8" y="475.7" width="20.7" height="17.4" fill="#5a5746"/>
<rect x="1054.0" y="477.1" width="16.3" height="4.0" fill="#b9b7aa"/>
<rect x="1054.0" y="482.5" width="16.3" height="4.0" fill="#b9b7aa"/>
<rect x="1054.0" y="487.9" width="16.3" height="4.0" fill="#b9b7aa"/>
<rect x="1054.8" y="483.9" width="14.7" height="1.2" fill="#2a2fb0"/>
<rect x="1051.8" y="523.0" width="20.7" height="17.4" fill="#5a5746"/>
<rect x="1054.0" y="524.4" width="16.3" height="4.0" fill="#b9b7aa"/>
<rect x="1054.0" y="529.8" width="16.3" height="4.0" fill="#b9b7aa"/>
<rect x="1054.0" y="535.2" width="16.3" height="4.0" fill="#b9b7aa"/>
<rect x="1054.8" y="531.2" width="14.7" height="1.2" fill="#2a2fb0"/>
<rect x="1051.8" y="561.6" width="20.7" height="17.4" fill="#5a5746"/>
<rect x="1054.0" y="563.0" width="16.3" height="4.0" fill="#b9b7aa"/>
<rect x="1054.0" y="568.4" width="16.3" height="4.0" fill="#b9b7aa"/>
<rect x="1054.0" y="573.8" width="16.3" height="4.0" fill="#b9b7aa"/>
<rect x="1054.8" y="569.8" width="14.7" height="1.2" fill="#2a2fb0"/>
<rect x="1220.6" y="441.3" width="20.7" height="17.4" fill="#5a5746"/>
<rect x="1222.8" y="442.7" width="16.3" height="4.0" fill="#b9b7aa"/>
<rect x="1222.8" y="448.1" width="16.3" height="4.0" fill="#b9b7aa"/>
<rect x="1222.8" y="453.5" width="16.3" height="4.0" fill="#b9b7aa"/>
<rect x="1223.6" y="449.5" width="14.7" height="1.2" fill="#2a2fb0"/>
<rect x="1252.0" y="441.3" width="20.7" height="17.4" fill="#5a5746"/>
<rect x="1254.2" y="442.7" width="16.3" height="4.0" fill="#b9b7aa"/>
<rect x="1254.2" y="448.1" width="16.3" height="4.0" fill="#b9b7aa"/>
<rect x="1254.2" y="453.5" width="16.3" height="4.0" fill="#b9b7aa"/>
<rect x="1255.0" y="449.5" width="14.7" height="1.2" fill="#2a2fb0"/>
<rect x="1257.3" y="471.3" width="20.7" height="17.4" fill="#5a5746"/>
<rect x="1259.5" y="472.7" width="16.3" height="4.0" fill="#b9b7aa"/>
<rect x="1259.5" y="478.1" width="16.3" height="4.0" fill="#b9b7aa"/>
<rect x="1259.5" y="483.5" width="16.3" height="4.0" fill="#b9b7aa"/>
<rect x="1260.3" y="479.5" width="14.7" height="1.2" fill="#2a2fb0"/>
<ellipse cx="977.6" cy="437" rx="5" ry="4.3" fill="#24562e"/><ellipse cx="977.0" cy="436" rx="3" ry="2.3" fill="#3f8f3f"/><rect x="972.1" y="439.4" width="11" height="1" fill="#2a2fb0"/>
<ellipse cx="977.6" cy="445.7" rx="5" ry="4.3" fill="#24562e"/><ellipse cx="977.0" cy="444.7" rx="3" ry="2.3" fill="#3f8f3f"/><rect x="972.1" y="448.09999999999997" width="11" height="1" fill="#2a2fb0"/>
<ellipse cx="1030.4" cy="445.7" rx="5" ry="4.3" fill="#24562e"/><ellipse cx="1029.8000000000002" cy="444.7" rx="3" ry="2.3" fill="#3f8f3f"/><rect x="1024.9" y="448.09999999999997" width="11" height="1" fill="#2a2fb0"/>
<ellipse cx="972.3" cy="557.2" rx="5" ry="4.3" fill="#24562e"/><ellipse cx="971.6999999999999" cy="556.2" rx="3" ry="2.3" fill="#3f8f3f"/><rect x="966.8" y="559.6" width="11" height="1" fill="#2a2fb0"/>
<ellipse cx="972.3" cy="587" rx="5" ry="4.3" fill="#24562e"/><ellipse cx="971.6999999999999" cy="586" rx="3" ry="2.3" fill="#3f8f3f"/><rect x="966.8" y="589.4" width="11" height="1" fill="#2a2fb0"/>
<ellipse cx="1035.7" cy="587" rx="5" ry="4.3" fill="#24562e"/><ellipse cx="1035.1000000000001" cy="586" rx="3" ry="2.3" fill="#3f8f3f"/><rect x="1030.2" y="589.4" width="11" height="1" fill="#2a2fb0"/>
<rect x="990.3" y="434.4" width="6.0" height="3.2" fill="#4c4a3c"/>
<rect x="986.8" y="437.6" width="13.0" height="1.1" fill="#2a2fb0"/>
<rect x="1011.3" y="434.4" width="6.0" height="3.2" fill="#4c4a3c"/>
<rect x="1007.8" y="437.6" width="13.0" height="1.1" fill="#2a2fb0"/>
<rect x="985.0" y="443.0" width="18.0" height="6.0" fill="#aaa590" stroke="#86816c" stroke-width=".5"/>
<rect x="991.0" y="444.0" width="6.0" height="2.6" fill="#44423a"/>
<rect x="987.0" y="446.6" width="14.0" height="1.2" fill="#2a2fb0"/>
<rect x="1006.0" y="443.0" width="18.0" height="6.0" fill="#aaa590" stroke="#86816c" stroke-width=".5"/>
<rect x="1012.0" y="444.0" width="6.0" height="2.6" fill="#44423a"/>
<rect x="1008.0" y="446.6" width="14.0" height="1.2" fill="#2a2fb0"/>
<rect x="1031.4" y="432.5" width="8.0" height="9.0" fill="none" stroke="#77735f" stroke-width=".6"/>
<rect x="1029.0" y="433.6" width="13.0" height="1.0" fill="#2a2fb0"/>
<rect x="1060.0" y="432.4" width="6.0" height="2.0" fill="#4c4a3c"/>
<rect x="1055.0" y="434.4" width="14.0" height="1.0" fill="#2a2fb0"/>
<rect x="969.6" y="429.6" width="42.4" height="1.2" fill="#26286e"/>
<rect x="1018.0" y="429.6" width="14.0" height="1.2" fill="#26286e"/>
<rect x="970.6" y="454.4" width="8.0" height="7.6" fill="#5b6358"/>
<rect x="972.0" y="455.0" width="3.4" height="4.0" fill="#8d968a"/>
<rect x="966.0" y="459.6" width="18.0" height="1.2" fill="#2a2fb0"/>
<rect x="988.9" y="468.4" width="20.4" height="6.9" fill="#fff" stroke="#d8d6cc" stroke-width=".4"/>
<text x="999.1" y="473.5" font-size="2.96" fill="#2a2fb0" text-anchor="middle" font-weight="400">MCN206</text>
<rect x="988.9" y="540.8" width="20.4" height="6.9" fill="#fff" stroke="#d8d6cc" stroke-width=".4"/>
<text x="999.1" y="545.9" font-size="2.96" fill="#2a2fb0" text-anchor="middle" font-weight="400">MCN206</text>
<rect x="1178.8" y="584.2" width="20.2" height="6.3" fill="#fff" stroke="#d8d6cc" stroke-width=".4"/>
<text x="1188.9" y="588.7" font-size="2.96" fill="#2a2fb0" text-anchor="middle" font-weight="400">MCN206</text>
<rect x="1094.5" y="429.1" width="19.5" height="2.4" fill="#fff"/>
<text x="1104.0" y="431.4" font-size="2.74" fill="#2a2fb0" text-anchor="middle" font-weight="400">MCN208</text>
<rect x="1226.9" y="429.0" width="17.6" height="2.8" fill="#fff"/>
<text x="1235.6" y="431.5" font-size="2.74" fill="#2a2fb0" text-anchor="middle" font-weight="400">MCN210</text>
<rect x="1246.0" y="429.6" width="24.0" height="1.2" fill="#26286e"/>
<text x="1018.0" y="470.0" font-size="2.74" fill="#2a2fb0" text-anchor="start" font-weight="400">MCN207</text>
<text x="1034.0" y="495.4" font-size="2.74" fill="#2a2fb0" text-anchor="start" font-weight="400">MCN208</text>
<text x="1018.0" y="555.4" font-size="2.74" fill="#2a2fb0" text-anchor="start" font-weight="400">MCN209</text>
<rect x="1028.0" y="486.0" width="5.0" height="5.0" fill="#15183a"/>
<rect x="1023.0" y="490.4" width="14.0" height="1.0" fill="#2a2fb0"/>
<rect x="1090.0" y="443.0" width="8.0" height="5.0" fill="#8f9a86" stroke="#5e5b4b" stroke-width=".5"/>
<rect x="1087.0" y="447.2" width="14.0" height="1.1" fill="#2a2fb0"/>
<rect x="1104.6" y="442.6" width="10.0" height="6.0" fill="#222a55" stroke="#4a4838" stroke-width=".5"/>
<rect x="1103.0" y="447.4" width="14.0" height="1.1" fill="#2a2fb0"/>
<rect x="1090.6" y="453.0" width="7.0" height="10.6" fill="#e4e4dc" stroke="#77735f" stroke-width=".5"/>
<rect x="1087.0" y="459.6" width="14.0" height="1.1" fill="#2a2fb0"/>
<rect x="1111.0" y="452.6" width="7.0" height="3.0" fill="#3c3a30"/>
<rect x="1107.0" y="455.4" width="15.0" height="1.0" fill="#2a2fb0"/>
<rect x="1124.4" y="446.5" width="3.0" height="5.0" fill="#55523f"/>
<rect x="1119.0" y="450.3" width="13.0" height="1.0" fill="#2a2fb0"/>
<rect x="1124.4" y="455.0" width="3.0" height="5.0" fill="#55523f"/>
<rect x="1119.0" y="458.8" width="13.0" height="1.0" fill="#2a2fb0"/>
<rect x="1124.4" y="463.6" width="3.0" height="5.0" fill="#55523f"/>
<rect x="1119.0" y="467.4" width="13.0" height="1.0" fill="#2a2fb0"/>
<rect x="1088.0" y="491.0" width="31.7" height="12.6" fill="#cbcbc2" stroke="#55523f" stroke-width=".8"/>
<rect x="1092.0" y="492.4" width="5.0" height="2.0" fill="#f2e84a"/>
<text x="1104.0" y="499.4" font-size="2.74" fill="#2a2fb0" text-anchor="middle" font-weight="400">MCN401</text>
<circle cx="1125.9" cy="487.9" r="3.4" fill="#e8d94a"/><circle cx="1125.9" cy="487.9" r="2.4" fill="#2c6fe0"/><rect x="1119" y="488.5" width="13" height="1" fill="#2a2fb0"/>
<circle cx="1125.9" cy="497.6" r="3.4" fill="#e8d94a"/><circle cx="1125.9" cy="497.6" r="2.4" fill="#2c6fe0"/><rect x="1119" y="498.20000000000005" width="13" height="1" fill="#2a2fb0"/>
<rect x="1083.0" y="521.0" width="22.6" height="12.2" fill="#aaa590" stroke="#6c6856" stroke-width=".6"/>
<path d="M1088 530l5-5 4 2 5-5v8z" fill="#e9e9e4"/>
<rect x="1084.0" y="527.6" width="16.0" height="1.1" fill="#2a2fb0"/>
<rect x="1088.3" y="543.3" width="53.1" height="10.5" fill="#b5b4ac" stroke="#77735f" stroke-width=".6"/>
<text x="1112.0" y="550.4" font-size="2.74" fill="#2a2fb0" text-anchor="middle" font-weight="400">MCN108</text>
<rect x="1093.3" y="570.1" width="32.4" height="7.8" fill="#1f4a2b"/>
<rect x="1095.0" y="571.6" width="29.0" height="4.6" fill="#e8ece6"/>
<circle cx="1105.2" cy="573.8" r="1.9" fill="#f08a2a"/>
<rect x="1108.0" y="572.4" width="14.0" height="3.0" fill="#9cb3a0"/>
<rect x="1090.6" y="572.4" width="2.7" height="3.0" fill="#123018"/>
<rect x="1125.7" y="571.6" width="5.3" height="5.4" fill="#3d7a45"/>
<rect x="981.6" y="559.7" width="45.0" height="10.7" fill="none" stroke="#6c6856" stroke-width=".6"/>
<rect x="982.6" y="560.7" width="10.0" height="8.7" fill="#d9d9d4"/>
<rect x="985.2" y="560.3" width="5.0" height="4.0" fill="#3f3d33"/>
<rect x="993.6" y="560.7" width="10.0" height="8.7" fill="#d9d9d4"/>
<rect x="996.2" y="560.3" width="5.0" height="4.0" fill="#3f3d33"/>
<rect x="1004.6" y="560.7" width="10.0" height="8.7" fill="#d9d9d4"/>
<rect x="1007.2" y="560.3" width="5.0" height="4.0" fill="#3f3d33"/>
<rect x="1015.6" y="560.7" width="10.0" height="8.7" fill="#d9d9d4"/>
<rect x="1018.2" y="560.3" width="5.0" height="4.0" fill="#3f3d33"/>
<rect x="981.6" y="565.7" width="45.0" height="1.2" fill="#2a2fb0"/>
<rect x="981.6" y="573.2" width="45.0" height="10.4" fill="none" stroke="#6c6856" stroke-width=".6"/>
<rect x="982.6" y="574.2" width="10.0" height="8.4" fill="#d9d9d4"/>
<rect x="985.2" y="579.0" width="5.0" height="4.0" fill="#3f3d33"/>
<rect x="993.6" y="574.2" width="10.0" height="8.4" fill="#d9d9d4"/>
<rect x="996.2" y="579.0" width="5.0" height="4.0" fill="#3f3d33"/>
<rect x="1004.6" y="574.2" width="10.0" height="8.4" fill="#d9d9d4"/>
<rect x="1007.2" y="579.0" width="5.0" height="4.0" fill="#3f3d33"/>
<rect x="1015.6" y="574.2" width="10.0" height="8.4" fill="#d9d9d4"/>
<rect x="1018.2" y="579.0" width="5.0" height="4.0" fill="#3f3d33"/>
<rect x="981.6" y="577.8" width="45.0" height="1.2" fill="#2a2fb0"/>
<rect x="975.0" y="576.0" width="5.0" height="5.0" fill="#15183a"/>
<rect x="1029.0" y="562.0" width="4.0" height="4.0" fill="#3c3a30"/>
<rect x="1029.0" y="576.0" width="4.0" height="4.0" fill="#3c3a30"/>
<rect x="1026.0" y="566.4" width="11.0" height="1.0" fill="#2a2fb0"/>
<rect x="1026.0" y="580.2" width="11.0" height="1.0" fill="#2a2fb0"/>
<rect x="980.0" y="556.6" width="4.6" height="2.0" fill="#3c3a30"/>
<rect x="990.0" y="556.6" width="6.0" height="2.0" fill="#3c3a30"/>
<rect x="978.0" y="558.4" width="19.0" height="1.0" fill="#2a2fb0"/>
<rect x="1032.0" y="556.0" width="8.0" height="2.4" fill="#3c3a30"/>
<rect x="1030.0" y="558.4" width="14.0" height="1.0" fill="#2a2fb0"/>
<rect x="1143.3" y="429.8" width="38.3" height="13.4" fill="#c9c9c2" stroke="#5e5b4b" stroke-width=".7"/>
<rect x="1172.0" y="434.0" width="6.0" height="6.0" fill="#8fa0a0"/>
<rect x="1173.0" y="435.0" width="4.0" height="1.6" fill="#24364a"/>
<rect x="1145.0" y="440.6" width="7.0" height="1.2" fill="#e2a23a"/>
<text x="1161.0" y="439.4" font-size="2.74" fill="#2a2fb0" text-anchor="middle" font-weight="400">MCN301</text>
<rect x="1143.3" y="447.4" width="17.6" height="30.4" fill="#aaa590" stroke="#5e5b4b" stroke-width=".7"/>
<rect x="1147.4" y="448.6" width="9.2" height="13.4" fill="#eef0ee"/>
<rect x="1144.4" y="461.0" width="7.6" height="13.0" fill="#5e93e4"/>
<rect x="1152.0" y="463.0" width="6.0" height="9.0" fill="#86aee8"/>
<rect x="1147.0" y="474.0" width="10.0" height="2.6" fill="#f4f6f4"/>
<rect x="1156.0" y="448.0" width="4.0" height="10.0" fill="#2e8a9a"/>
<rect x="1189.8" y="435.7" width="8.8" height="19.5" fill="#8a3420"/>
<rect x="1190.6" y="436.4" width="7.2" height="9.6" fill="#e8702a"/>
<rect x="1192.4" y="438.0" width="3.6" height="12.0" fill="#d7d7e0"/>
<rect x="1190.0" y="452.6" width="8.6" height="2.6" fill="#4a5a2a"/>
<rect x="1186.0" y="446.4" width="16.0" height="1.0" fill="#2a2fb0"/>
<rect x="1167.5" y="458.7" width="10.4" height="8.0" fill="#4b4939"/>
<rect x="1168.9" y="460.0" width="7.6" height="5.4" fill="#b3b1a5"/>
<rect x="1178.1" y="458.7" width="10.4" height="8.0" fill="#4b4939"/>
<rect x="1179.5" y="460.0" width="7.6" height="5.4" fill="#b3b1a5"/>
<rect x="1188.7" y="458.7" width="10.4" height="8.0" fill="#4b4939"/>
<rect x="1190.1" y="460.0" width="7.6" height="5.4" fill="#b3b1a5"/>
<rect x="1165.0" y="464.0" width="35.0" height="1.2" fill="#2a2fb0"/>
<rect x="1141.6" y="491.0" width="9.4" height="12.0" fill="#c9c9c4" stroke="#5e5b4b" stroke-width=".6"/>
<rect x="1143.6" y="492.4" width="5.4" height="4.6" fill="#f2f2f0"/>
<rect x="1139.2" y="497.4" width="14.4" height="1.1" fill="#2a2fb0"/>
<rect x="1141.6" y="516.9" width="9.4" height="12.0" fill="#c9c9c4" stroke="#5e5b4b" stroke-width=".6"/>
<rect x="1143.6" y="518.3" width="5.4" height="4.6" fill="#f2f2f0"/>
<rect x="1139.2" y="523.3" width="14.4" height="1.1" fill="#2a2fb0"/>
<rect x="1157.7" y="491.0" width="9.4" height="12.0" fill="#aaa590" stroke="#5e5b4b" stroke-width=".6"/>
<circle cx="1162.4" cy="494.4" r="1.6" fill="#15151e"/><circle cx="1162.4" cy="499.6" r="1.6" fill="#15151e"/>
<rect x="1155.3" y="497.4" width="14.4" height="1.1" fill="#2a2fb0"/>
<rect x="1157.7" y="516.9" width="9.4" height="12.0" fill="#aaa590" stroke="#5e5b4b" stroke-width=".6"/>
<circle cx="1162.4" cy="520.3" r="1.6" fill="#15151e"/><circle cx="1162.4" cy="525.5" r="1.6" fill="#15151e"/>
<rect x="1155.3" y="523.3" width="14.4" height="1.1" fill="#2a2fb0"/>
<rect x="1180.1" y="491.6" width="17.2" height="11.8" fill="#e9e53f"/>
<path d="M1188.6999999999998 493.20000000000005L1195.6999999999998 497.0L1188.6999999999998 500.8L1181.6999999999998 497.0Z" fill="#1d7a4c"/><path d="M1181.6999999999998 497.0L1188.6999999999998 500.8L1195.6999999999998 497.0V499.20000000000005L1188.6999999999998 502.6L1181.6999999999998 499.20000000000005Z" fill="#1f4fa8"/>
<rect x="1180.1" y="559.7" width="17.2" height="11.8" fill="#e9e53f"/>
<path d="M1188.6999999999998 561.3000000000001L1195.6999999999998 565.1L1188.6999999999998 568.9000000000001L1181.6999999999998 565.1Z" fill="#1d7a4c"/><path d="M1181.6999999999998 565.1L1188.6999999999998 568.9000000000001L1195.6999999999998 565.1V567.3000000000001L1188.6999999999998 570.7L1181.6999999999998 567.3000000000001Z" fill="#1f4fa8"/>
<rect x="1180.1" y="511.9" width="6.6" height="13.8" fill="#d8d4bc" stroke="#5e5b4b" stroke-width=".5"/>
<rect x="1181.1" y="512.4" width="4.6" height="3.6" fill="#25231c"/>
<rect x="1181.1" y="521.6" width="4.6" height="3.6" fill="#25231c"/>
<rect x="1190.4" y="511.9" width="6.6" height="13.8" fill="#d8d4bc" stroke="#5e5b4b" stroke-width=".5"/>
<rect x="1191.4" y="512.4" width="4.6" height="3.6" fill="#25231c"/>
<rect x="1191.4" y="521.6" width="4.6" height="3.6" fill="#25231c"/>
<rect x="1176.0" y="519.4" width="25.0" height="1.1" fill="#2a2fb0"/>
<rect x="1222.5" y="497.9" width="39.0" height="13.9" fill="#2b3fb0"/>
<rect x="1225.0" y="499.5" width="26.0" height="8.9" fill="#1d4a86"/>
<rect x="1251.0" y="499.1" width="8.5" height="9.7" fill="#2f6ff0"/>
<rect x="1223.4" y="499.9" width="1.0" height="7.9" fill="#e8ecff"/>
<rect x="1261.5" y="497.3" width="6.2" height="2.8" fill="#f4f4f0"/>
<rect x="1261.5" y="506.1" width="9.1" height="7.8" fill="#8d8b80" stroke="#6c6856" stroke-width=".4"/>
<rect x="1222.5" y="523.8" width="39.0" height="14.1" fill="#2b3fb0"/>
<rect x="1225.0" y="525.4" width="26.0" height="9.1" fill="#1d4a86"/>
<rect x="1251.0" y="525.0" width="8.5" height="9.9" fill="#2f6ff0"/>
<rect x="1223.4" y="525.8" width="1.0" height="8.1" fill="#e8ecff"/>
<rect x="1261.5" y="523.2" width="6.2" height="2.8" fill="#f4f4f0"/>
<rect x="1261.5" y="532.0" width="9.1" height="7.8" fill="#8d8b80" stroke="#6c6856" stroke-width=".4"/>
<rect x="1274.4" y="545.2" width="7.4" height="15.8" fill="#fbfbf8"/>
<rect x="1274.6" y="489.6" width="4.0" height="3.4" fill="#3c3a30"/>
<rect x="1271.0" y="493.0" width="16.0" height="1.0" fill="#2a2fb0"/>
<path d="M1219.3 552.1H1247V562.6H1273.4V587.3H1219.3Z" fill="#8f8f8b" stroke="#5e5b4b" stroke-width=".8"/>
<rect x="1221.6" y="553.4" width="24.0" height="9.0" fill="#c4c6c0"/>
<text x="1246.0" y="574.6" font-size="2.74" fill="#2a2fb0" text-anchor="middle" font-weight="400">MCN110</text>
<rect x="1252.0" y="552.6" width="7.0" height="2.2" fill="#25231c"/>
<rect x="1248.0" y="554.8" width="15.0" height="1.0" fill="#2a2fb0"/>
<rect x="1266.0" y="556.6" width="3.0" height="3.4" fill="#25231c"/>
<rect x="1260.0" y="559.4" width="26.0" height="1.0" fill="#2a2fb0"/>
<rect x="1146.7" y="555.9" width="20.5" height="28.5" fill="#cdd0ec" stroke="#8d90b8" stroke-width=".5"/>
<rect x="1150.4" y="558.0" width="11.6" height="24.4" fill="#c9c9c4"/>
<rect x="1162.0" y="558.0" width="2.4" height="24.4" fill="#6a6a72"/>
<text x="1157.0" y="572.6" font-size="2.51" fill="#2a2fb0" text-anchor="middle" font-weight="400">MCN111</text>
<path d="M1149 560.4l2.4 1-2.4 1zM1149 578.4l2.4 1-2.4 1z" fill="#333"/>
<rect x="1208.0" y="575.4" width="4.0" height="5.0" fill="#25231c"/>
<rect x="1203.0" y="579.6" width="13.0" height="1.0" fill="#2a2fb0"/>
<rect x="853.4" y="602.6" width="420.2" height="31.8" fill="#f3f4f5"/>
<text x="853.8" y="608.8" font-size="3.42" fill="#333" text-anchor="start" font-weight="700">#</text>
<text x="869.4" y="608.8" font-size="3.42" fill="#333" text-anchor="start" font-weight="700">Item 이름</text>
<text x="934.4" y="608.8" font-size="3.42" fill="#333" text-anchor="end" font-weight="700">시작시간</text>
<text x="976.3" y="608.8" font-size="3.42" fill="#333" text-anchor="end" font-weight="700">납기</text>
<text x="989.9" y="608.8" font-size="3.42" fill="#333" text-anchor="end" font-weight="700">총 …</text>
<text x="996.0" y="608.8" font-size="3.42" fill="#333" text-anchor="start" font-weight="700">진척(%)</text>
<text x="853.8" y="614.4" font-size="3.19" fill="#333" text-anchor="start" font-weight="400">307</text>
<text x="869.4" y="614.4" font-size="3.19" fill="#333" text-anchor="start" font-weight="400">Item07</text>
<text x="934.4" y="614.4" font-size="3.19" fill="#333" text-anchor="end" font-weight="400">2024-08-16 10:40:46</text>
<text x="976.3" y="614.4" font-size="3.19" fill="#333" text-anchor="end" font-weight="400">2024-08-16 20:07:46</text>
<text x="989.9" y="614.4" font-size="3.19" fill="#333" text-anchor="end" font-weight="400">300</text>
<text x="853.8" y="619.4" font-size="3.19" fill="#333" text-anchor="start" font-weight="400">309</text>
<text x="869.4" y="619.4" font-size="3.19" fill="#333" text-anchor="start" font-weight="400">Item09</text>
<text x="934.4" y="619.4" font-size="3.19" fill="#333" text-anchor="end" font-weight="400">2024-08-16 10:41:06</text>
<text x="976.3" y="619.4" font-size="3.19" fill="#333" text-anchor="end" font-weight="400">2024-08-17 16:05:06</text>
<text x="989.9" y="619.4" font-size="3.19" fill="#333" text-anchor="end" font-weight="400">300</text>
<text x="853.8" y="624.4" font-size="3.19" fill="#333" text-anchor="start" font-weight="400">310</text>
<text x="869.4" y="624.4" font-size="3.19" fill="#333" text-anchor="start" font-weight="400">Item10</text>
<text x="934.4" y="624.4" font-size="3.19" fill="#333" text-anchor="end" font-weight="400">2024-08-16 10:41:13</text>
<text x="976.3" y="624.4" font-size="3.19" fill="#333" text-anchor="end" font-weight="400">2024-08-20 16:01:13</text>
<text x="989.9" y="624.4" font-size="3.19" fill="#333" text-anchor="end" font-weight="400">400</text>
<text x="853.8" y="629.4" font-size="3.19" fill="#333" text-anchor="start" font-weight="400">311</text>
<text x="869.4" y="629.4" font-size="3.19" fill="#333" text-anchor="start" font-weight="400">Item11</text>
<text x="934.4" y="629.4" font-size="3.19" fill="#333" text-anchor="end" font-weight="400">2024-08-16 10:41:25</text>
<text x="976.3" y="629.4" font-size="3.19" fill="#333" text-anchor="end" font-weight="400">2024-08-18 05:55:25</text>
<text x="989.9" y="629.4" font-size="3.19" fill="#333" text-anchor="end" font-weight="400">200</text>
<text x="853.8" y="634.4" font-size="3.19" fill="#333" text-anchor="start" font-weight="400">312</text>
<text x="869.4" y="634.4" font-size="3.19" fill="#333" text-anchor="start" font-weight="400">Item12</text>
<text x="934.4" y="634.4" font-size="3.19" fill="#333" text-anchor="end" font-weight="400">2024-08-16 10:41:32</text>
<text x="976.3" y="634.4" font-size="3.19" fill="#333" text-anchor="end" font-weight="400">2024-08-16 22:47:32</text>
<text x="989.9" y="634.4" font-size="3.19" fill="#333" text-anchor="end" font-weight="400">200</text>
<text x="853.8" y="639.4" font-size="3.19" fill="#333" text-anchor="start" font-weight="400">313</text>
<text x="869.4" y="639.4" font-size="3.19" fill="#333" text-anchor="start" font-weight="400">Item08</text>
<text x="934.4" y="639.4" font-size="3.19" fill="#333" text-anchor="end" font-weight="400">2024-08-16 10:52:55</text>
<text x="976.3" y="639.4" font-size="3.19" fill="#333" text-anchor="end" font-weight="400">2024-08-18 06:42:35</text>
<text x="989.9" y="639.4" font-size="3.19" fill="#333" text-anchor="end" font-weight="400">1500</text>
<rect x="1273.8" y="602.7" width="126.0" height="36.8" fill="#ececec"/>
<rect x="1394.2" y="602.7" width="5.6" height="36.8" fill="#dcdcdc"/>
<rect x="1273.0" y="624.8" width="0.8" height="14.7" fill="#555"/>
<rect x="1310.6" y="605.9" width="79.2" height="4.9" fill="#fff" stroke="#555" stroke-width=".6"/>
<text x="1305.7" y="609.7" font-size="3.19" fill="#333" text-anchor="end" font-weight="700">공정 진척</text>
<text x="1391.0" y="609.7" font-size="2.74" fill="#333" text-anchor="start" font-weight="400">0%</text>
<rect x="1310.6" y="613.7" width="79.2" height="4.9" fill="#fff" stroke="#555" stroke-width=".6"/>
<text x="1305.7" y="617.5" font-size="3.19" fill="#333" text-anchor="end" font-weight="700">장비 가동률</text>
<text x="1391.0" y="617.5" font-size="2.74" fill="#333" text-anchor="start" font-weight="400">0%</text>
<text x="1305.7" y="626.0" font-size="3.19" fill="#333" text-anchor="end" font-weight="700">재공현황</text>
<rect x="1310.6" y="622.3" width="16.0" height="4.7" fill="#f6f6f6" stroke="#cfcfcf" stroke-width=".4"/>
<text x="1318.6" y="626.0" font-size="2.96" fill="#333" text-anchor="middle" font-weight="400">0</text>
<rect x="1328.6" y="622.3" width="16.0" height="4.7" fill="#f6f6f6" stroke="#cfcfcf" stroke-width=".4"/>
<text x="1336.6" y="626.0" font-size="2.96" fill="#333" text-anchor="middle" font-weight="400">0</text>
</g>
<!--/S2-->
<!--S3-->
<g id="s3" filter="url(#bl2)" text-rendering="geometricPrecision" font-family="'Liberation Sans','Noto Sans CJK KR',sans-serif">
<rect x="468.9" y="446.9" width="282.1" height="211.5" fill="#fff"/>
<rect x="481.4" y="454.7" width="264.6" height="10.3" fill="#f3f7fc"/>
<rect x="470.9" y="454.7" width="10.5" height="202.9" fill="#14207f"/>
<g fill="none" stroke="#6f7fd0" stroke-width=".8"><path d="M473.6 462.6v-3.4l2.6-2 2.6 2v3.4"/><circle cx="476.2" cy="473" r="1.7"/><rect x="474.8" y="481.6" width="2.8" height="3.6"/></g>
<path d="M484 457.4l1.2 1v2.2h-2.4v-2.2z" fill="none" stroke="#b8c4d6" stroke-width=".4"/>
<text x="487.7" y="459.4" font-size="4.10" fill="#7a8088" text-anchor="start" font-weight="400">MDT 모델 관리</text>
<text x="487.7" y="462.8" font-size="2.28" fill="#b4bac2" text-anchor="start" font-weight="400">APS 분석 &gt; MDT 모델 관리</text>
<rect x="703.4" y="457.0" width="29.4" height="5.0" fill="#fff" stroke="#d6dbe0" stroke-width=".4"/>
<text x="705.0" y="460.8" font-size="2.62" fill="#c3c8ce" text-anchor="start" font-weight="400">Quick Menu</text>
<circle cx="736.6" cy="459.5" r="2" fill="none" stroke="#aab2ba" stroke-width=".6"/><circle cx="743" cy="459.5" r="2" fill="none" stroke="#aab2ba" stroke-width=".6"/>
<rect x="484.6" y="469.4" width="128.2" height="10.7" fill="#dfe3e5"/>
<text x="486.4" y="476.0" font-size="3.31" fill="#333" text-anchor="start" font-weight="700">MDT 리스트</text>
<rect x="554.2" y="483.7" width="18.7" height="6.5" fill="#1428a0"/>
<text x="563.5" y="488.2" font-size="3.08" fill="#fff" text-anchor="middle" font-weight="700">추가</text>
<rect x="574.2" y="483.7" width="18.8" height="6.5" fill="#1428a0"/>
<text x="583.6" y="488.2" font-size="3.08" fill="#fff" text-anchor="middle" font-weight="700">삭제</text>
<rect x="594.2" y="483.7" width="18.6" height="6.5" fill="#1428a0"/>
<text x="603.5" y="488.2" font-size="3.08" fill="#fff" text-anchor="middle" font-weight="700">선택 저장</text>
<rect x="484.6" y="492.6" width="126.7" height="7.7" fill="#1428a0"/>
<rect x="485.9" y="493.8" width="2.4" height="3.4" fill="#fff"/>
<path d="M492.4 492.6V500.3" stroke="#5566c8" stroke-width=".4"/>
<path d="M503 492.6V500.3" stroke="#5566c8" stroke-width=".4"/>
<path d="M530.7 492.6V500.3" stroke="#5566c8" stroke-width=".4"/>
<path d="M545.6 492.6V500.3" stroke="#5566c8" stroke-width=".4"/>
<path d="M572.5 492.6V500.3" stroke="#5566c8" stroke-width=".4"/>
<path d="M583.9 492.6V500.3" stroke="#5566c8" stroke-width=".4"/>
<text x="497.7" y="497.7" font-size="3.08" fill="#fff" text-anchor="middle" font-weight="700">번호</text>
<text x="516.8" y="497.7" font-size="3.08" fill="#fff" text-anchor="middle" font-weight="700">이름</text>
<text x="538.2" y="497.7" font-size="3.08" fill="#fff" text-anchor="middle" font-weight="700">버전</text>
<text x="559.0" y="497.7" font-size="3.08" fill="#fff" text-anchor="middle" font-weight="700">설명</text>
<text x="578.2" y="497.7" font-size="3.08" fill="#fff" text-anchor="middle" font-weight="700">생성자</text>
<text x="597.6" y="497.7" font-size="3.08" fill="#fff" text-anchor="middle" font-weight="700">생성 일시</text>
<text x="497.7" y="504.5" font-size="2.62" fill="#555" text-anchor="middle" font-weight="400">1</text>
<text x="516.8" y="504.5" font-size="2.62" fill="#555" text-anchor="middle" font-weight="400">WELDER-MDT</text>
<text x="538.2" y="504.5" font-size="2.62" fill="#555" text-anchor="middle" font-weight="400">V0_0.0.3</text>
<text x="559.0" y="504.5" font-size="2.62" fill="#555" text-anchor="middle" font-weight="400">용접 로봇팔 MDT Sim…</text>
<text x="578.2" y="504.5" font-size="2.62" fill="#555" text-anchor="middle" font-weight="400">welder-bot</text>
<text x="597.6" y="504.5" font-size="2.62" fill="#555" text-anchor="middle" font-weight="400">2024-11-06 09:46</text>
<path d="M484.6 506.3H611.3" stroke="#e6eaee" stroke-width=".35"/>
<text x="497.7" y="510.5" font-size="2.62" fill="#555" text-anchor="middle" font-weight="400">2</text>
<text x="516.8" y="510.5" font-size="2.62" fill="#555" text-anchor="middle" font-weight="400">LL_CHIP-TRIM-PROC</text>
<text x="538.2" y="510.5" font-size="2.62" fill="#555" text-anchor="middle" font-weight="400">V0_0.0.1</text>
<text x="559.0" y="510.5" font-size="2.62" fill="#555" text-anchor="middle" font-weight="400">test-v0.0.1</text>
<text x="578.2" y="510.5" font-size="2.62" fill="#555" text-anchor="middle" font-weight="400">unknown</text>
<text x="597.6" y="510.5" font-size="2.62" fill="#555" text-anchor="middle" font-weight="400">2024-10-21 09:40</text>
<path d="M484.6 512.4H611.3" stroke="#e6eaee" stroke-width=".35"/>
<text x="497.7" y="516.6" font-size="2.62" fill="#555" text-anchor="middle" font-weight="400">3</text>
<text x="516.8" y="516.6" font-size="2.62" fill="#555" text-anchor="middle" font-weight="400">LL_CHIP-TRIM-PROC</text>
<text x="538.2" y="516.6" font-size="2.62" fill="#555" text-anchor="middle" font-weight="400">V0_0.0.1</text>
<text x="559.0" y="516.6" font-size="2.62" fill="#555" text-anchor="middle" font-weight="400">Test용 MDT</text>
<text x="578.2" y="516.6" font-size="2.62" fill="#555" text-anchor="middle" font-weight="400">unknown</text>
<text x="597.6" y="516.6" font-size="2.62" fill="#555" text-anchor="middle" font-weight="400">2024-10-21 09:40</text>
<path d="M484.6 518.4H611.3" stroke="#e6eaee" stroke-width=".35"/>
<text x="497.7" y="522.6" font-size="2.62" fill="#555" text-anchor="middle" font-weight="400">4</text>
<text x="516.8" y="522.6" font-size="2.62" fill="#555" text-anchor="middle" font-weight="400">LL_CHIP-TRIM-PROC</text>
<text x="538.2" y="522.6" font-size="2.62" fill="#555" text-anchor="middle" font-weight="400">V0_0.0.1</text>
<text x="559.0" y="522.6" font-size="2.62" fill="#555" text-anchor="middle" font-weight="400">12345</text>
<text x="578.2" y="522.6" font-size="2.62" fill="#555" text-anchor="middle" font-weight="400">unknown</text>
<text x="597.6" y="522.6" font-size="2.62" fill="#555" text-anchor="middle" font-weight="400">2024-10-21 09:40</text>
<path d="M484.6 524.4H611.3" stroke="#e6eaee" stroke-width=".35"/>
<rect x="484.6" y="524.4" width="126.7" height="6.2" fill="#b7d3f6"/>
<rect x="486.0" y="525.8" width="2.0" height="3.2" fill="#fff"/>
<text x="497.7" y="528.6" font-size="2.62" fill="#334" text-anchor="middle" font-weight="400">5</text>
<text x="516.8" y="528.6" font-size="2.62" fill="#334" text-anchor="middle" font-weight="400">Weld_MDT</text>
<text x="538.2" y="528.6" font-size="2.62" fill="#334" text-anchor="middle" font-weight="400">V0_0.0.12</text>
<text x="559.0" y="528.6" font-size="2.62" fill="#334" text-anchor="middle" font-weight="400">용접 로봇팔 MDT Sim…</text>
<text x="578.2" y="528.6" font-size="2.62" fill="#334" text-anchor="middle" font-weight="400">welder-bot</text>
<text x="597.6" y="528.6" font-size="2.62" fill="#334" text-anchor="middle" font-weight="400">2024-11-06 09:46</text>
<path d="M484.6 530.4H611.3" stroke="#e6eaee" stroke-width=".35"/>
<text x="497.7" y="534.7" font-size="2.62" fill="#555" text-anchor="middle" font-weight="400">6</text>
<text x="516.8" y="534.7" font-size="2.62" fill="#555" text-anchor="middle" font-weight="400">ENWAT-LATHE</text>
<text x="538.2" y="534.7" font-size="2.62" fill="#555" text-anchor="middle" font-weight="400">V0_0.1.0</text>
<text x="559.0" y="534.7" font-size="2.62" fill="#555" text-anchor="middle" font-weight="400">용접 로봇팔 MDT Sim…</text>
<text x="578.2" y="534.7" font-size="2.62" fill="#555" text-anchor="middle" font-weight="400">welder-bot</text>
<text x="597.6" y="534.7" font-size="2.62" fill="#555" text-anchor="middle" font-weight="400">2024-11-06 09:46</text>
<path d="M484.6 536.5H611.3" stroke="#e6eaee" stroke-width=".35"/>
<text x="497.7" y="540.7" font-size="2.62" fill="#555" text-anchor="middle" font-weight="400">7</text>
<text x="516.8" y="540.7" font-size="2.62" fill="#555" text-anchor="middle" font-weight="400">ENWAT-LATHE</text>
<text x="538.2" y="540.7" font-size="2.62" fill="#555" text-anchor="middle" font-weight="400">V0_0.0.1</text>
<text x="559.0" y="540.7" font-size="2.62" fill="#555" text-anchor="middle" font-weight="400">wef</text>
<text x="578.2" y="540.7" font-size="2.62" fill="#555" text-anchor="middle" font-weight="400">unknown</text>
<text x="597.6" y="540.7" font-size="2.62" fill="#555" text-anchor="middle" font-weight="400">2024-09-17 17:04</text>
<path d="M484.6 542.5H611.3" stroke="#e6eaee" stroke-width=".35"/>
<text x="497.7" y="546.7" font-size="2.62" fill="#555" text-anchor="middle" font-weight="400">8</text>
<text x="516.8" y="546.7" font-size="2.62" fill="#555" text-anchor="middle" font-weight="400">ENWAT-LATHE</text>
<text x="538.2" y="546.7" font-size="2.62" fill="#555" text-anchor="middle" font-weight="400">V0_0.0.1</text>
<text x="559.0" y="546.7" font-size="2.62" fill="#555" text-anchor="middle" font-weight="400">12345</text>
<text x="578.2" y="546.7" font-size="2.62" fill="#555" text-anchor="middle" font-weight="400">unknown</text>
<text x="597.6" y="546.7" font-size="2.62" fill="#555" text-anchor="middle" font-weight="400">2024-09-17 17:04</text>
<path d="M484.6 548.5H611.3" stroke="#e6eaee" stroke-width=".35"/>
<path d="M492.4 500.3V548.5" stroke="#eef1f4" stroke-width=".35"/>
<path d="M503 500.3V548.5" stroke="#eef1f4" stroke-width=".35"/>
<path d="M530.7 500.3V548.5" stroke="#eef1f4" stroke-width=".35"/>
<path d="M545.6 500.3V548.5" stroke="#eef1f4" stroke-width=".35"/>
<path d="M572.5 500.3V548.5" stroke="#eef1f4" stroke-width=".35"/>
<path d="M583.9 500.3V548.5" stroke="#eef1f4" stroke-width=".35"/>
<rect x="611.3" y="505.6" width="1.3" height="28.1" fill="#8a8a8a"/>
<path d="M611.2 502.4h1.4l-.7-1z" fill="#666"/><path d="M611.2 545.6h1.4l-.7 1z" fill="#666"/>
<rect x="493.9" y="548.6" width="4.0" height="6.5" fill="#2a8fc0"/>
<rect x="495.0" y="550.2" width="1.8" height="3.2" fill="#8fd0ee"/>
<text x="487.0" y="553.0" font-size="2.96" fill="#c8ccd2" text-anchor="start" font-weight="400">‹ ‹</text>
<text x="500.0" y="553.0" font-size="2.74" fill="#666" text-anchor="start" font-weight="400">2  ▸ ▸</text>
<text x="609.0" y="553.0" font-size="2.51" fill="#999" text-anchor="end" font-weight="400">1 - 8 of 16 items</text>
<rect x="493.9" y="637.2" width="4.0" height="6.5" fill="#2a8fc0"/>
<rect x="495.0" y="638.8" width="1.8" height="3.2" fill="#8fd0ee"/>
<text x="487.0" y="641.6" font-size="2.96" fill="#c8ccd2" text-anchor="start" font-weight="400">‹ ‹</text>
<text x="500.0" y="641.6" font-size="2.74" fill="#666" text-anchor="start" font-weight="400">2  ▸ ▸</text>
<text x="609.0" y="641.6" font-size="2.51" fill="#999" text-anchor="end" font-weight="400">1 - 8 of 16 items</text>
<rect x="484.6" y="558.7" width="128.3" height="10.1" fill="#dfe3e5"/>
<text x="486.4" y="565.2" font-size="3.31" fill="#333" text-anchor="start" font-weight="700">레퍼런스 리스트</text>
<rect x="594.4" y="572.7" width="18.6" height="7.2" fill="#1428a0"/>
<text x="603.7" y="577.5" font-size="3.08" fill="#fff" text-anchor="middle" font-weight="700">저장</text>
<rect x="484.6" y="582.7" width="126.2" height="7.2" fill="#1428a0"/>
<rect x="485.9" y="583.8" width="2.4" height="3.4" fill="#fff"/>
<path d="M492.7 582.7V589.9" stroke="#5566c8" stroke-width=".4"/>
<path d="M506 582.7V589.9" stroke="#5566c8" stroke-width=".4"/>
<path d="M535.4 582.7V589.9" stroke="#5566c8" stroke-width=".4"/>
<path d="M565.2 582.7V589.9" stroke="#5566c8" stroke-width=".4"/>
<path d="M578.1 582.7V589.9" stroke="#5566c8" stroke-width=".4"/>
<text x="499.3" y="587.6" font-size="3.08" fill="#fff" text-anchor="middle" font-weight="700">번호</text>
<text x="520.7" y="587.6" font-size="3.08" fill="#fff" text-anchor="middle" font-weight="700">이름</text>
<text x="550.3" y="587.6" font-size="3.08" fill="#fff" text-anchor="middle" font-weight="700">설명</text>
<text x="571.6" y="587.6" font-size="3.08" fill="#fff" text-anchor="middle" font-weight="700">생성자</text>
<text x="594.5" y="587.6" font-size="3.08" fill="#fff" text-anchor="middle" font-weight="700">생성 일시</text>
<rect x="484.6" y="589.9" width="126.2" height="46.4" fill="#b7d3f6"/>
<rect x="486.0" y="591.2" width="2.0" height="3.1" fill="#f4f8ff"/>
<text x="499.3" y="593.9" font-size="2.39" fill="#345" text-anchor="middle" font-weight="400">1</text>
<text x="520.7" y="593.9" font-size="2.39" fill="#345" text-anchor="middle" font-weight="400">SM_IO_pipeline_init_sta…</text>
<text x="550.3" y="593.9" font-size="2.39" fill="#345" text-anchor="middle" font-weight="400">Total count of pipeli…</text>
<text x="571.6" y="593.9" font-size="2.39" fill="#345" text-anchor="middle" font-weight="400">offline</text>
<text x="594.5" y="593.9" font-size="2.39" fill="#345" text-anchor="middle" font-weight="400">2024-01-20 07:07:01</text>
<path d="M484.6 595.7H610.8" stroke="#c6dcf8" stroke-width=".3"/>
<rect x="486.0" y="597.0" width="2.0" height="3.1" fill="#f4f8ff"/>
<text x="499.3" y="599.7" font-size="2.39" fill="#345" text-anchor="middle" font-weight="400">2</text>
<text x="520.7" y="599.7" font-size="2.39" fill="#345" text-anchor="middle" font-weight="400">SM_IO_pipeline_init_sta…</text>
<text x="550.3" y="599.7" font-size="2.39" fill="#345" text-anchor="middle" font-weight="400"></text>
<text x="571.6" y="599.7" font-size="2.39" fill="#345" text-anchor="middle" font-weight="400">offline</text>
<text x="594.5" y="599.7" font-size="2.39" fill="#345" text-anchor="middle" font-weight="400">2024-01-20 07:07:01</text>
<path d="M484.6 601.5H610.8" stroke="#c6dcf8" stroke-width=".3"/>
<rect x="486.0" y="602.8" width="2.0" height="3.1" fill="#f4f8ff"/>
<text x="499.3" y="605.5" font-size="2.39" fill="#345" text-anchor="middle" font-weight="400">3</text>
<text x="520.7" y="605.5" font-size="2.39" fill="#345" text-anchor="middle" font-weight="400">SM_IO_pipeline_init_sta…</text>
<text x="550.3" y="605.5" font-size="2.39" fill="#345" text-anchor="middle" font-weight="400">Pipeline init update…</text>
<text x="571.6" y="605.5" font-size="2.39" fill="#345" text-anchor="middle" font-weight="400">offline</text>
<text x="594.5" y="605.5" font-size="2.39" fill="#345" text-anchor="middle" font-weight="400">2024-01-20 07:07:01</text>
<path d="M484.6 607.3H610.8" stroke="#c6dcf8" stroke-width=".3"/>
<rect x="486.0" y="608.6" width="2.0" height="3.1" fill="#f4f8ff"/>
<text x="499.3" y="611.3" font-size="2.39" fill="#345" text-anchor="middle" font-weight="400">4</text>
<text x="520.7" y="611.3" font-size="2.39" fill="#345" text-anchor="middle" font-weight="400">SM_IO_pipeline_init_sta…</text>
<text x="550.3" y="611.3" font-size="2.39" fill="#345" text-anchor="middle" font-weight="400">Pipeline MDT Model H…</text>
<text x="571.6" y="611.3" font-size="2.39" fill="#345" text-anchor="middle" font-weight="400">offline</text>
<text x="594.5" y="611.3" font-size="2.39" fill="#345" text-anchor="middle" font-weight="400">2024-01-20 07:07:01</text>
<path d="M484.6 613.1H610.8" stroke="#c6dcf8" stroke-width=".3"/>
<rect x="486.0" y="614.4" width="2.0" height="3.1" fill="#f4f8ff"/>
<text x="499.3" y="617.1" font-size="2.39" fill="#345" text-anchor="middle" font-weight="400">5</text>
<text x="520.7" y="617.1" font-size="2.39" fill="#345" text-anchor="middle" font-weight="400">SM_IO_pipeline_init_pip…</text>
<text x="550.3" y="617.1" font-size="2.39" fill="#345" text-anchor="middle" font-weight="400">Pipeline MDT Pipeline</text>
<text x="571.6" y="617.1" font-size="2.39" fill="#345" text-anchor="middle" font-weight="400">offline</text>
<text x="594.5" y="617.1" font-size="2.39" fill="#345" text-anchor="middle" font-weight="400">2024-01-20 07:07:01</text>
<path d="M484.6 618.9H610.8" stroke="#c6dcf8" stroke-width=".3"/>
<rect x="486.0" y="620.2" width="2.0" height="3.1" fill="#f4f8ff"/>
<text x="499.3" y="622.9" font-size="2.39" fill="#345" text-anchor="middle" font-weight="400">6</text>
<text x="520.7" y="622.9" font-size="2.39" fill="#345" text-anchor="middle" font-weight="400">SM_IO_pipeline_init_pip…</text>
<text x="550.3" y="622.9" font-size="2.39" fill="#345" text-anchor="middle" font-weight="400">Pipeline init manage</text>
<text x="571.6" y="622.9" font-size="2.39" fill="#345" text-anchor="middle" font-weight="400">offline</text>
<text x="594.5" y="622.9" font-size="2.39" fill="#345" text-anchor="middle" font-weight="400">2024-01-20 07:07:01</text>
<path d="M484.6 624.7H610.8" stroke="#c6dcf8" stroke-width=".3"/>
<rect x="486.0" y="626.0" width="2.0" height="3.1" fill="#f4f8ff"/>
<text x="499.3" y="628.7" font-size="2.39" fill="#345" text-anchor="middle" font-weight="400">7</text>
<text x="520.7" y="628.7" font-size="2.39" fill="#345" text-anchor="middle" font-weight="400">OT_IO_pipeline_init_upd…</text>
<text x="550.3" y="628.7" font-size="2.39" fill="#345" text-anchor="middle" font-weight="400">Total OT MDT update</text>
<text x="571.6" y="628.7" font-size="2.39" fill="#345" text-anchor="middle" font-weight="400">offline</text>
<text x="594.5" y="628.7" font-size="2.39" fill="#345" text-anchor="middle" font-weight="400">2024-01-20 07:07:01</text>
<path d="M484.6 630.5H610.8" stroke="#c6dcf8" stroke-width=".3"/>
<rect x="486.0" y="631.8" width="2.0" height="3.1" fill="#f4f8ff"/>
<text x="499.3" y="634.5" font-size="2.39" fill="#345" text-anchor="middle" font-weight="400">8</text>
<text x="520.7" y="634.5" font-size="2.39" fill="#345" text-anchor="middle" font-weight="400">OT_IO_pipeline_init_upd…</text>
<text x="550.3" y="634.5" font-size="2.39" fill="#345" text-anchor="middle" font-weight="400">Pipeline MDT update</text>
<text x="571.6" y="634.5" font-size="2.39" fill="#345" text-anchor="middle" font-weight="400">offline</text>
<text x="594.5" y="634.5" font-size="2.39" fill="#345" text-anchor="middle" font-weight="400">2024-01-20 07:07:01</text>
<path d="M484.6 636.3H610.8" stroke="#c6dcf8" stroke-width=".3"/>
<rect x="611.3" y="595.3" width="1.3" height="26.7" fill="#8a8a8a"/>
<rect x="481.4" y="648.6" width="264.6" height="9.0" fill="#fafbfc"/>
<rect x="483.1" y="650.8" width="17.9" height="5.6" fill="#fff" stroke="#aab2ba" stroke-width=".4"/>
<text x="484.4" y="654.8" font-size="2.51" fill="#555" text-anchor="start" font-weight="400">MDT 모델 관리 ▾</text>
<text x="523.0" y="655.0" font-size="3.42" fill="#777" text-anchor="middle" font-weight="400">×</text>
<text x="547.6" y="655.0" font-size="3.42" fill="#777" text-anchor="middle" font-weight="400">×</text>
<text x="564.4" y="655.0" font-size="3.42" fill="#777" text-anchor="middle" font-weight="400">×</text>
<text x="592.6" y="655.0" font-size="3.42" fill="#777" text-anchor="middle" font-weight="400">×</text>
<text x="505.0" y="654.8" font-size="2.62" fill="#d0d4d8" text-anchor="start" font-weight="400">· · · · ·</text>
<text x="527.0" y="654.8" font-size="2.62" fill="#d0d4d8" text-anchor="start" font-weight="400">· · · · ·</text>
<text x="551.0" y="654.8" font-size="2.62" fill="#d0d4d8" text-anchor="start" font-weight="400">· · · · ·</text>
<text x="568.0" y="654.8" font-size="2.62" fill="#d0d4d8" text-anchor="start" font-weight="400">· · · · ·</text>
<rect x="616.4" y="469.4" width="127.7" height="10.7" fill="#dfe3e5"/>
<text x="618.4" y="476.0" font-size="3.31" fill="#333" text-anchor="start" font-weight="700">Overview</text>
<text x="617.9" y="487.6" font-size="2.85" fill="#555" text-anchor="start" font-weight="400">MDT 이름: Weld_MDT</text>
<text x="617.9" y="501.0" font-size="2.74" fill="#555" text-anchor="start" font-weight="400">레퍼런스 데이터:</text>
<text x="636.0" y="497.6" font-size="2.28" fill="#777" text-anchor="start" font-weight="400">SM_IO_pipeline_init_state_count, SM_IO_pipeline_init_state_count_backup, SM_IO_pipeline_init_state</text>
<text x="636.0" y="500.7" font-size="2.28" fill="#777" text-anchor="start" font-weight="400">SM_IO_pipeline_init_state_count_status, SM_IO_pipeline_init_pipeline_status, OT_IO_pipeline</text>
<text x="636.0" y="503.8" font-size="2.28" fill="#777" text-anchor="start" font-weight="400">nt_IO_pipeline_count_get, SG_IO_pipeline_init_update_count_mapper</text>
<rect x="617.9" y="507.9" width="123.7" height="5.1" fill="#dde7fb"/>
<rect x="619.7" y="508.4" width="5.0" height="4.2" fill="#1428a0"/>
<rect x="620.9" y="509.7" width="2.6" height="0.8" fill="#c9d3ff"/>
<path d="M617.5 509.7l1.2 .8-1.2 .8z" fill="#777"/>
<text x="625.7" y="511.7" font-size="2.39" fill="#445" text-anchor="start" font-weight="400">"Weld_MDT" [IO modules.mdt.WeldModel.Weld_MDT_Factory_M_0, 1 Type]</text>
<rect x="617.9" y="513.5" width="123.7" height="5.1" fill="#dde7fb"/>
<rect x="622.0" y="514.0" width="5.0" height="4.2" fill="#1428a0"/>
<rect x="623.2" y="515.3" width="2.6" height="0.8" fill="#c9d3ff"/>
<path d="M619.8 515.3l1.2 .8-1.2 .8z" fill="#777"/>
<text x="628.0" y="517.3" font-size="2.39" fill="#445" text-anchor="start" font-weight="400">assetInformation</text>
<rect x="617.9" y="519.0" width="123.7" height="5.1" fill="#dde7fb"/>
<rect x="622.0" y="519.5" width="5.0" height="4.2" fill="#1428a0"/>
<rect x="623.2" y="520.8" width="2.6" height="0.8" fill="#c9d3ff"/>
<path d="M619.8 520.8l1.2 .8-1.2 .8z" fill="#777"/>
<text x="628.0" y="522.8" font-size="2.39" fill="#445" text-anchor="start" font-weight="400">"InformationModel" [IO modules.mdt.WeldModel.Weld_MDT_Factory.InformationModel]</text>
<rect x="617.9" y="524.6" width="123.7" height="5.1" fill="#dde7fb"/>
<rect x="619.7" y="525.1" width="5.0" height="4.2" fill="#1428a0"/>
<rect x="620.9" y="526.4" width="2.6" height="0.8" fill="#c9d3ff"/>
<path d="M617.5 526.4l1.2 .8-1.2 .8z" fill="#777"/>
<text x="625.7" y="528.4" font-size="2.39" fill="#445" text-anchor="start" font-weight="400">"Weld_MDT_Line" [IO modules.mdt.WeldModel.Weld_MDT_Factory_Line_M_1 Type]</text>
<rect x="617.9" y="530.1" width="123.7" height="5.1" fill="#dde7fb"/>
<rect x="622.0" y="530.6" width="5.0" height="4.2" fill="#1428a0"/>
<rect x="623.2" y="531.9" width="2.6" height="0.8" fill="#c9d3ff"/>
<path d="M619.8 531.9l1.2 .8-1.2 .8z" fill="#777"/>
<text x="628.0" y="533.9" font-size="2.39" fill="#445" text-anchor="start" font-weight="400">assetInformation</text>
<rect x="617.9" y="535.7" width="123.7" height="5.1" fill="#dde7fb"/>
<rect x="622.0" y="536.2" width="5.0" height="4.2" fill="#1428a0"/>
<rect x="623.2" y="537.5" width="2.6" height="0.8" fill="#c9d3ff"/>
<path d="M619.8 537.5l1.2 .8-1.2 .8z" fill="#777"/>
<text x="628.0" y="539.5" font-size="2.39" fill="#445" text-anchor="start" font-weight="400">"InformationModel" [IO modules.mdt.WeldModel.Weld_MDT_Line.InformationModel]</text>
<rect x="617.9" y="541.3" width="123.7" height="5.1" fill="#dde7fb"/>
<rect x="622.0" y="541.8" width="5.0" height="4.2" fill="#1428a0"/>
<rect x="623.2" y="543.1" width="2.6" height="0.8" fill="#c9d3ff"/>
<path d="M619.8 543.1l1.2 .8-1.2 .8z" fill="#777"/>
<text x="628.0" y="545.1" font-size="2.39" fill="#445" text-anchor="start" font-weight="400">"Data" [IO modules.mdt.WeldModel.Weld_MDT_Line.Data]</text>
<rect x="617.9" y="546.8" width="123.7" height="5.1" fill="#dde7fb"/>
<rect x="622.0" y="547.3" width="5.0" height="4.2" fill="#1428a0"/>
<rect x="623.2" y="548.6" width="2.6" height="0.8" fill="#c9d3ff"/>
<path d="M619.8 548.6l1.2 .8-1.2 .8z" fill="#777"/>
<text x="628.0" y="550.6" font-size="2.39" fill="#445" text-anchor="start" font-weight="400">"Simulation" [IO modules.mdt.WeldModel.Weld_MDT_Line.Simulation]</text>
<rect x="617.9" y="552.4" width="123.7" height="5.1" fill="#dde7fb"/>
<rect x="622.0" y="552.9" width="5.0" height="4.2" fill="#1428a0"/>
<rect x="623.2" y="554.2" width="2.6" height="0.8" fill="#c9d3ff"/>
<path d="M619.8 554.2l1.2 .8-1.2 .8z" fill="#777"/>
<text x="628.0" y="556.2" font-size="2.39" fill="#445" text-anchor="start" font-weight="400">"Shape" [IO modules.mdt.WeldModel.Weld_MDT_Line.Shape]</text>
<rect x="617.9" y="557.9" width="123.7" height="5.1" fill="#dde7fb"/>
<rect x="619.7" y="558.4" width="5.0" height="4.2" fill="#1428a0"/>
<rect x="620.9" y="559.7" width="2.6" height="0.8" fill="#c9d3ff"/>
<path d="M617.5 559.7l1.2 .8-1.2 .8z" fill="#777"/>
<text x="625.7" y="561.7" font-size="2.39" fill="#445" text-anchor="start" font-weight="400">"LL_WHEEL_MDT" [IO modules.mdt.WeldModel.LL_WHEEL_MDT_M_1 Type]</text>
<rect x="617.9" y="563.5" width="123.7" height="5.1" fill="#dde7fb"/>
<rect x="622.0" y="564.0" width="5.0" height="4.2" fill="#1428a0"/>
<rect x="623.2" y="565.3" width="2.6" height="0.8" fill="#c9d3ff"/>
<path d="M619.8 565.3l1.2 .8-1.2 .8z" fill="#777"/>
<text x="628.0" y="567.3" font-size="2.39" fill="#445" text-anchor="start" font-weight="400">assetInformation</text>
<rect x="617.9" y="569.1" width="123.7" height="5.1" fill="#dde7fb"/>
<rect x="622.0" y="569.6" width="5.0" height="4.2" fill="#1428a0"/>
<rect x="623.2" y="570.9" width="2.6" height="0.8" fill="#c9d3ff"/>
<path d="M619.8 570.9l1.2 .8-1.2 .8z" fill="#777"/>
<text x="628.0" y="572.9" font-size="2.39" fill="#445" text-anchor="start" font-weight="400">"InformationModel" [IO modules.mdt.WeldModel.LL_WHEEL_MDT.InformationModel]</text>
<rect x="617.9" y="574.6" width="123.7" height="5.1" fill="#dde7fb"/>
<rect x="622.0" y="575.1" width="5.0" height="4.2" fill="#1428a0"/>
<rect x="623.2" y="576.4" width="2.6" height="0.8" fill="#c9d3ff"/>
<path d="M619.8 576.4l1.2 .8-1.2 .8z" fill="#777"/>
<text x="628.0" y="578.4" font-size="2.39" fill="#445" text-anchor="start" font-weight="400">"Data" [IO modules.mdt.WeldModel.LL_WHEEL_MDT.Data]</text>
<rect x="617.9" y="580.2" width="123.7" height="5.1" fill="#dde7fb"/>
<rect x="622.0" y="580.7" width="5.0" height="4.2" fill="#1428a0"/>
<rect x="623.2" y="582.0" width="2.6" height="0.8" fill="#c9d3ff"/>
<path d="M619.8 582.0l1.2 .8-1.2 .8z" fill="#777"/>
<text x="628.0" y="584.0" font-size="2.39" fill="#445" text-anchor="start" font-weight="400">"Shape" [IO modules.mdt.WeldModel.LL_WHEEL_MDT.Shape]</text>
<rect x="742.6" y="511.7" width="1.0" height="127.8" fill="#999"/>
<path d="M742.4 509h1.4l-.7-1z" fill="#666"/>
</g>
<!--/S3-->
  <!-- header arrows -->
  <g fill="#000" stroke="none">
    <rect x="240" y="37.9" width="152" height="3.2"/>
    <path d="M228.9 39.5 L242.3 33 V46 Z"/>
    <path d="M403.4 39.5 L390.2 33 V46 Z"/>
    <rect x="654" y="38" width="250" height="3.3"/>
    <path d="M642.8 39.5 L656 33 V46 Z"/>
    <path d="M914.9 39.8 L901.8 33.2 V46.4 Z"/>
  </g>

  <!-- small cylinders (left) -->
  <g filter="url(#sh)" stroke="#000" stroke-width="2" stroke-linejoin="round">
    <path d="M37.4 88.4 A36.6 6.1 0 0 1 110.6 88.4 V126.2 A36.6 6.1 0 0 1 37.4 126.2 Z" fill="#f5f5f5"/>
    <path d="M37.4 198 A36.6 6.1 0 0 1 110.6 198 V236.2 A36.6 6.1 0 0 1 37.4 236.2 Z" fill="#f5f5f5"/>
    <path d="M37.4 301 A36.6 6.1 0 0 1 110.6 301 V339.2 A36.6 6.1 0 0 1 37.4 339.2 Z" fill="#f5f5f5"/>
    <path d="M37.4 563.8 A36.6 6.1 0 0 1 110.6 563.8 V602.1 A36.6 6.1 0 0 1 37.4 602.1 Z" fill="#f5f5f5"/>
  </g>
  <g stroke="#000" stroke-width="2" fill="#fbfbfb">
    <ellipse cx="74" cy="88.4" rx="36.6" ry="6.1"/>
    <ellipse cx="74" cy="198" rx="36.6" ry="6.1"/>
    <ellipse cx="74" cy="301" rx="36.6" ry="6.1"/>
    <ellipse cx="74" cy="563.8" rx="36.6" ry="6.1"/>
  </g>
  <g fill="#000">
    <circle cx="71.6" cy="407.5" r="6.1"/>
    <circle cx="71.6" cy="452.5" r="6.1"/>
    <circle cx="71.6" cy="497.6" r="6.1"/>
  </g>
  <!-- teal double arrows -->
  <g fill="#3f998d" stroke="#052638" stroke-width="2.6" stroke-linejoin="miter" stroke-miterlimit="6">
    <path d="M157.9 183.7 L172.7 168.9 V176.3 H193.4 V168.9 L208.4 183.7 L193.4 198.5 V191.2 H172.7 V198.5 Z"/>
    <path transform="translate(-3 258.9)" d="M157.9 183.7 L172.7 168.9 V176.3 H193.4 V168.9 L208.4 183.7 L193.4 198.5 V191.2 H172.7 V198.5 Z"/>
    <path transform="translate(0 388.7)" d="M157.9 183.7 L172.7 168.9 V176.3 H193.4 V168.9 L208.4 183.7 L193.4 198.5 V191.2 H172.7 V198.5 Z"/>
  </g>
  <!-- black connectors -->
  <g stroke="#000" stroke-width="3.4" fill="none" stroke-linecap="butt" stroke-linejoin="miter">
    <path d="M499 178 V203.6 H516" stroke-width="3.3"/>
    <path d="M527 216 V280.6 H544" stroke-width="3.3"/>
    <path d="M525.5 241.4 H544" stroke-width="3.3"/>
    <path d="M462.6 229.4 H427"/>
    <path d="M439 228 V543.2"/>
    <path d="M415.7 543.2 H451"/>
    <path d="M321.5 354 V405"/>
    <path d="M762 543.3 H826"/>
    <path d="M826 220.5 H799.8 V543.3"/>
  </g>
  <g fill="#000">
    <path d="M415.6 229.4 L428.4 222.8 V236 Z"/>
    <path d="M462 543.2 L450 536.8 V549.6 Z"/>
    <path d="M321.5 415.8 L315.1 403.6 H327.9 Z"/>
    <path d="M837.8 543.3 L825 536.8 V549.8 Z"/>
    <path d="M837.8 220.5 L825 214 V227 Z"/>
  </g>
  <!-- PostgreSQL logo -->
  <g id="pg" filter="url(#bl3)">
    <path d="M261.2 469.4 C262 466.6 265.5 465.3 269 465.6 C271 465.7 272.6 466.2 273.8 466.6 C275.4 465.7 277.6 465.4 279.8 465.5 C283.4 465.6 287 467.4 288.1 471.2 C288.9 474.2 288 478.2 285.9 481 C286.6 482 287.8 481.8 288.4 482.4 C288.2 483.8 285.4 484.6 282.9 484.1 C282.8 486.2 282.6 488.2 282 489.6 C281.2 492.2 279.2 493.8 276.6 493.6 C274.4 493.4 273.6 491.6 273.6 489.4 L273.4 485.4 C271.6 486.2 269.6 486.2 268.4 485.4 C266 485.6 263.8 483.6 262.6 480.8 C261.2 477.6 260.2 472.8 261.2 469.4 Z" fill="#2f6499" stroke="#707070" stroke-width="1.1" stroke-linejoin="round"/>
    <g fill="none" stroke="#eef3f9" stroke-width=".95" stroke-linecap="round">
      <path d="M270.2 468.4 C268.2 471 267.8 475.6 269.2 478.6 C270.2 480.8 272.2 481.6 272.6 483.6"/>
      <path d="M268.8 483.6 C269.6 482.2 271.8 482 272.8 483.2"/>
      <path d="M279.6 469 C281.6 470.6 282.6 472.8 281.6 474.6 C280.6 476.4 280.6 479.4 282.6 482.6"/>
      <path d="M277.4 473.6 C278.4 472.8 280 473 280.6 473.8"/>
      <path d="M282.8 483.6 C284.2 483.8 285.6 483.2 286 482"/>
    </g>
  </g>
  <text x="290" y="482.9" font-family="'Liberation Sans',sans-serif" font-size="11.4" filter="url(#bl3)"><tspan fill="#4a4a4a" letter-spacing="-1.05" font-weight="400">Postgre</tspan><tspan fill="#3f79b5" letter-spacing="0" dx="-.3">SQL</tspan></text>
  <!-- database cylinders -->
  <g stroke="#000" stroke-width="2" stroke-linejoin="round">
    <g filter="url(#sh2)">
      <path d="M254.8 516 A65.3 13.5 0 0 1 385.4 516 V598.2 A65.3 13.5 0 0 1 254.8 598.2 Z" fill="#f6f6f6"/>
    </g>
    <ellipse cx="320.1" cy="516" rx="65.3" ry="13.5" fill="#fafafa"/>
    <g filter="url(#sh2)">
      <path d="M271.7 541.9 A48 9.2 0 0 1 367.7 541.9 V601 A48 9.2 0 0 1 271.7 601 Z" fill="#e4e4e4"/>
    </g>
    <ellipse cx="319.7" cy="541.9" rx="48" ry="9.2" fill="#eeeeee"/>
    <g filter="url(#sh2)">
      <path d="M283.9 568.5 A36 5.7 0 0 1 355.9 568.5 V605 A36 5.7 0 0 1 283.9 605 Z" fill="#cccccc"/>
    </g>
    <ellipse cx="319.9" cy="568.5" rx="36" ry="5.7" fill="#dedede"/>
  </g>
</svg>

</body>
</html>
